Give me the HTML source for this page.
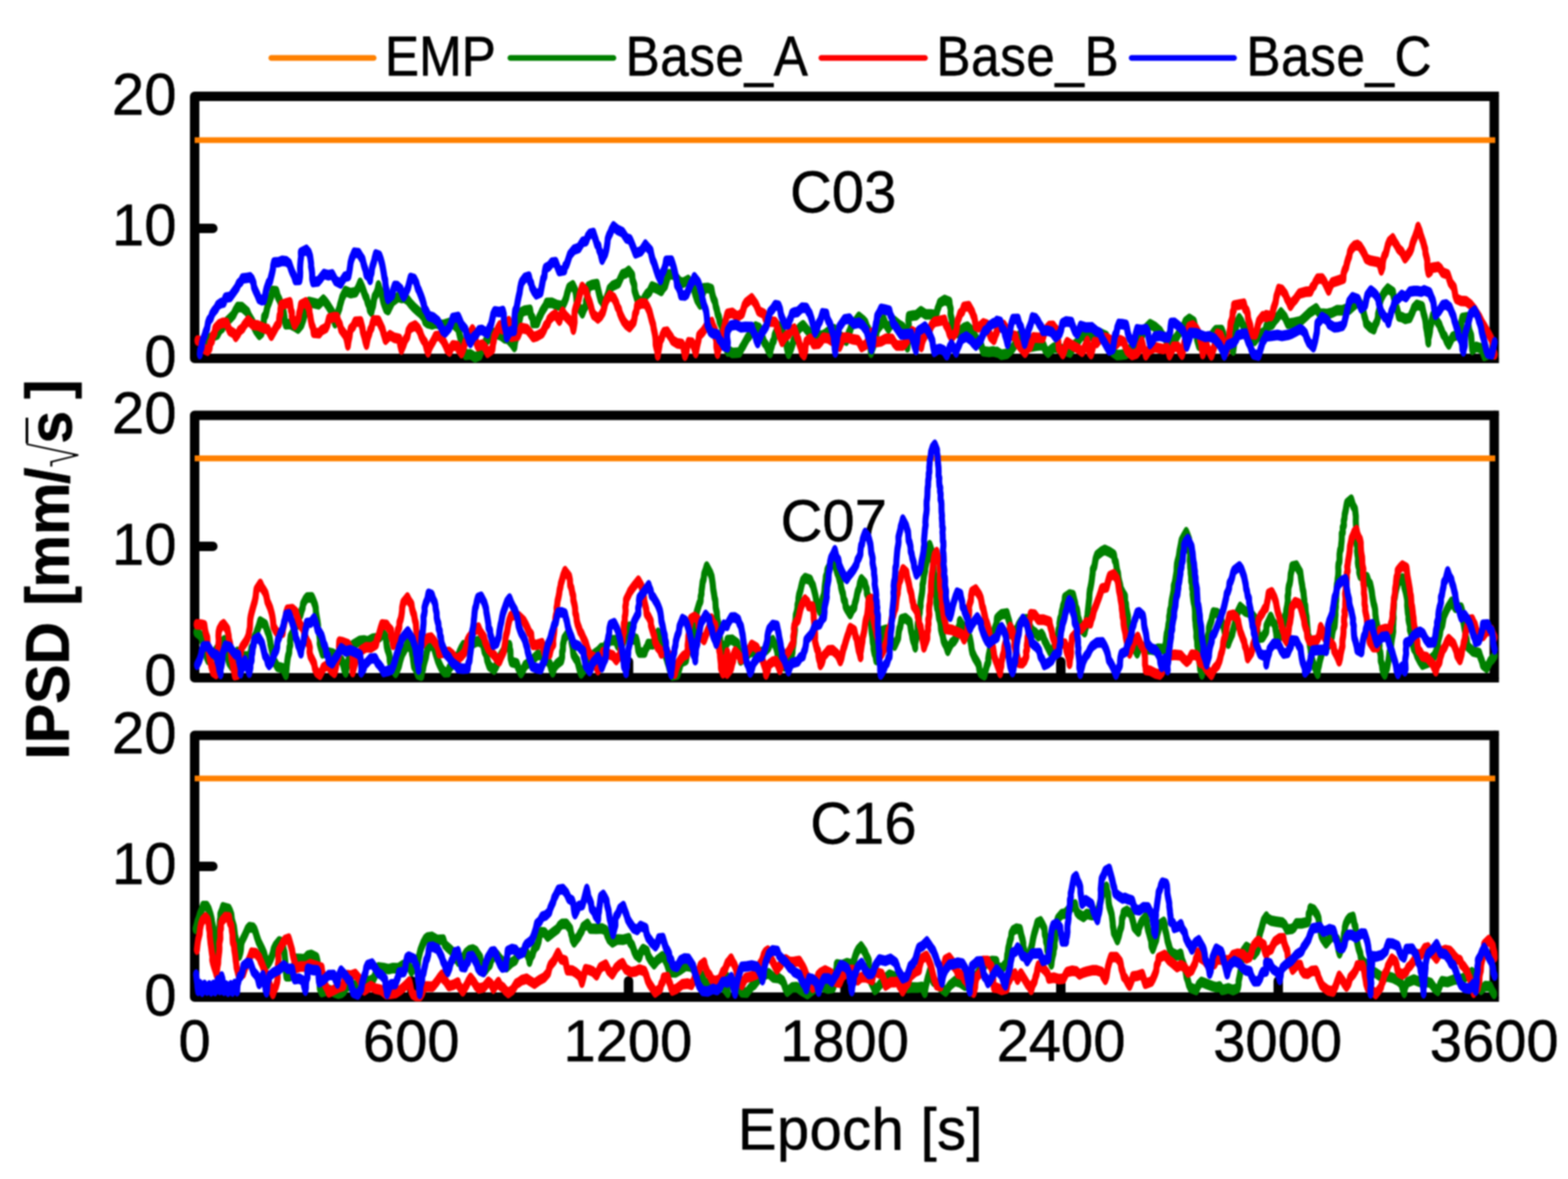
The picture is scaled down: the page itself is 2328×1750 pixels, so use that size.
<!DOCTYPE html>
<html lang="en"><head><meta charset="utf-8"><title>IPSD</title>
<style>html,body{margin:0;padding:0;background:#fff;}body{width:2328px;height:1750px;overflow:hidden;}svg{display:block;}#chart{width:2328px;height:1750px;filter:blur(0.8px);}text{font-family:"Liberation Sans",Arial,Helvetica,sans-serif;fill:#000;stroke:#000;stroke-width:0.8px;stroke-linejoin:round;}.yl{font-weight:bold;}.ax{fill:none;stroke:#000;stroke-width:14;stroke-linejoin:round;stroke-linecap:round;}.c{fill:none;stroke-width:9.0;stroke-linejoin:round;stroke-linecap:round;}.o{stroke:#ff8000;}.g{stroke:#008000;}.r{stroke:#ff0000;}.b{stroke:#0000ff;}</style></head><body><div id="chart">
<svg width="2328" height="1750" viewBox="0 0 2328 1750">
<rect width="2328" height="1750" fill="#fff"/>
<line class="c o" style="stroke-width:8.5" x1="402.8" y1="86" x2="554.8" y2="86"/>
<text class="t" transform="translate(571.5,111.5) scale(1.000,1.100)" style="font-size:76px">EMP</text>
<line class="c g" style="stroke-width:8.5" x1="757.8" y1="86" x2="910.8" y2="86"/>
<text class="t" transform="translate(928.7,111.5) scale(1.000,1.100)" style="font-size:76px;letter-spacing:0.9px">Base_A</text>
<line class="c r" style="stroke-width:8.5" x1="1219.5" y1="86" x2="1373.3" y2="86"/>
<text class="t" transform="translate(1390.2,111.5) scale(1.000,1.100)" style="font-size:76px;letter-spacing:0.9px">Base_B</text>
<line class="c b" style="stroke-width:8.5" x1="1680.2" y1="86" x2="1832.2" y2="86"/>
<text class="t" transform="translate(1850.5,111.5) scale(1.000,1.100)" style="font-size:76px;letter-spacing:0.9px">Base_C</text>
<text class="t" text-anchor="end" transform="translate(262.0,169.5) scale(1.000,1.020)" style="font-size:86px">20</text>
<text class="t" text-anchor="end" transform="translate(262.0,364.0) scale(1.000,1.020)" style="font-size:86px">10</text>
<text class="t" text-anchor="end" transform="translate(262.0,559.0) scale(1.000,1.020)" style="font-size:86px">0</text>
<text class="t" transform="translate(1173.0,314.5) scale(1.000,1.020)" style="font-size:86px">C03</text>
<rect class="ax" x="289" y="143" width="1929.5" height="389"/>
<rect x="2218.5" y="136.0" width="7.0" height="7.0"/><rect x="2218.5" y="532" width="7.0" height="7.0"/>
<line class="ax" x1="289" y1="339" x2="316" y2="339"/>
<line class="c o" style="stroke-linecap:butt;stroke-width:8.7" x1="289" y1="208" x2="2220.0" y2="208"/>
<path class="c g" transform="scale(1,1.75)" d="M298.0 296.25 L302.6 293.05 L306.0 289.43 L310.3 287.34 L317.5 284.89 L322.9 283.67 L326.7 279.56 L330.1 278.08 L333.8 274.29 L338.8 271.54 L343.2 269.05 L346.6 266.89 L349.7 263.25 L352.7 260.42 L359.4 260.54 L367.3 264.57 L369.5 267.73 L372.0 270.20 L375.2 273.24 L377.5 277.49 L379.7 279.98 L384.9 284.06 L388.4 282.42 L388.9 279.25 L389.8 277.03 L391.5 273.49 L392.1 268.89 L394.5 267.00 L396.1 262.81 L397.3 259.62 L399.5 256.42 L401.5 253.22 L403.3 250.38 L404.7 246.80 L410.4 247.11 L412.5 251.63 L414.9 254.21 L416.7 257.07 L419.1 261.12 L421.0 264.22 L422.0 267.58 L422.7 271.62 L424.2 275.08 L430.7 274.82 L436.9 276.68 L442.6 278.70 L447.6 275.30 L450.4 270.82 L452.0 267.26 L453.4 263.56 L454.9 261.38 L457.7 257.67 L458.6 256.03 L466.0 257.07 L473.2 258.18 L480.1 254.13 L482.7 255.67 L486.0 258.26 L489.6 261.49 L493.3 264.93 L494.9 267.02 L496.0 271.54 L497.4 274.16 L498.2 271.61 L500.0 267.62 L502.1 264.14 L504.0 261.26 L504.8 258.85 L507.1 254.29 L507.9 252.51 L512.7 246.88 L520.5 248.64 L528.1 247.83 L531.7 244.19 L534.7 239.89 L538.0 243.99 L540.7 248.40 L542.2 250.79 L544.2 252.88 L545.8 256.42 L548.2 259.42 L549.0 262.67 L551.4 264.42 L552.3 261.92 L553.9 259.14 L554.8 255.67 L556.1 251.65 L558.5 249.31 L560.4 246.37 L561.9 242.08 L563.5 245.38 L565.9 248.14 L567.5 251.71 L569.1 255.83 L570.9 258.81 L573.1 262.06 L576.4 263.06 L579.5 259.29 L582.5 255.81 L586.7 253.89 L591.4 251.72 L596.0 252.83 L600.2 252.49 L605.4 254.52 L610.2 258.01 L614.8 260.85 L619.2 263.16 L623.5 265.18 L625.8 266.61 L629.5 269.17 L631.2 272.45 L634.4 273.95 L641.5 275.19 L647.4 274.17 L654.0 275.52 L659.5 275.31 L668.4 273.66 L674.9 275.79 L679.8 278.40 L680.4 278.41 L681.7 282.32 L683.1 285.70 L685.0 288.91 L685.9 290.95 L687.7 294.46 L689.5 297.99 L691.0 301.01 L698.4 300.54 L705.5 303.13 L712.2 301.31 L714.7 297.62 L717.3 295.76 L719.4 292.89 L721.0 289.56 L725.6 287.08 L729.6 284.76 L734.1 282.40 L743.8 284.62 L749.0 286.97 L753.8 287.36 L759.8 291.12 L763.7 294.33 L764.7 289.82 L766.2 286.86 L767.0 283.32 L768.5 279.11 L769.9 277.56 L770.3 273.85 L771.7 270.51 L772.8 267.75 L773.8 264.94 L778.9 263.43 L787.0 262.79 L788.3 267.44 L790.9 269.77 L791.6 273.89 L797.6 273.88 L800.0 269.83 L802.5 267.08 L804.6 264.28 L807.0 262.07 L809.9 259.48 L811.6 256.92 L819.5 256.78 L827.0 258.72 L835.1 259.62 L838.8 255.32 L840.6 252.55 L842.2 248.57 L844.7 244.10 L850.5 241.98 L854.0 246.23 L855.0 249.12 L855.7 252.42 L856.2 256.33 L857.5 259.81 L860.9 261.95 L864.6 265.79 L867.4 261.73 L870.2 259.08 L870.0 255.72 L871.5 253.00 L872.1 250.44 L872.4 247.51 L873.4 243.12 L879.2 241.61 L886.3 240.95 L887.5 244.28 L888.5 246.69 L890.0 250.45 L891.6 253.88 L893.9 255.56 L897.0 258.63 L899.4 254.97 L900.9 252.22 L902.8 249.33 L904.8 245.15 L909.3 242.54 L918.2 240.14 L920.9 236.57 L924.1 232.65 L929.0 231.77 L933.5 229.69 L938.7 233.63 L939.0 237.31 L940.5 239.66 L941.8 241.90 L942.0 246.14 L944.0 249.95 L945.9 253.45 L953.1 257.13 L957.0 252.53 L960.4 249.50 L964.2 247.60 L967.9 243.02 L974.7 244.56 L981.9 246.79 L984.2 244.51 L987.6 242.29 L989.6 238.31 L991.5 234.70 L992.8 232.66 L1000.0 232.76 L1004.7 235.85 L1009.1 239.01 L1014.3 239.82 L1021.8 237.35 L1025.3 241.14 L1029.3 243.89 L1030.9 246.63 L1032.6 250.10 L1034.9 254.11 L1039.6 258.34 L1041.1 254.71 L1042.7 250.23 L1044.5 246.87 L1044.7 244.45 L1051.2 244.24 L1056.3 245.21 L1057.5 249.37 L1059.2 253.07 L1061.6 255.90 L1062.8 260.04 L1064.2 262.51 L1065.5 266.30 L1067.4 268.90 L1068.4 272.53 L1071.2 276.00 L1072.6 279.20 L1073.3 283.50 L1074.4 287.30 L1075.5 289.60 L1076.8 293.41 L1078.9 296.20 L1080.6 298.20 L1079.8 296.52 L1087.0 299.39 L1092.9 299.18 L1097.9 298.97 L1101.1 295.39 L1103.5 293.23 L1106.9 289.56 L1110.1 286.39 L1112.6 284.87 L1115.5 281.36 L1118.8 279.88 L1121.8 276.93 L1127.2 278.22 L1129.3 280.20 L1130.2 283.10 L1132.3 286.55 L1134.6 290.39 L1137.7 292.71 L1140.7 296.86 L1143.4 299.42 L1144.3 296.04 L1145.9 293.17 L1147.1 290.37 L1149.0 288.65 L1150.1 284.40 L1151.8 282.13 L1153.9 279.64 L1155.8 276.72 L1159.4 279.16 L1162.5 282.15 L1165.3 285.40 L1166.1 288.66 L1167.4 291.12 L1167.9 293.81 L1169.7 298.30 L1170.8 300.13 L1171.9 298.19 L1174.1 296.32 L1176.3 292.50 L1177.9 289.52 L1180.3 287.21 L1182.2 283.33 L1185.2 279.45 L1187.9 277.69 L1192.4 275.78 L1197.5 279.39 L1202.2 282.31 L1206.3 285.59 L1214.2 284.61 L1220.5 284.68 L1225.0 283.34 L1228.9 281.59 L1234.2 279.54 L1238.7 279.20 L1242.3 281.96 L1245.9 284.25 L1251.3 286.92 L1256.6 288.99 L1258.6 285.31 L1260.2 282.38 L1262.1 280.29 L1263.8 276.86 L1265.8 275.33 L1271.1 271.85 L1275.1 268.63 L1282.7 272.23 L1285.0 273.79 L1287.4 277.75 L1289.4 279.54 L1290.2 283.78 L1290.7 285.72 L1292.0 289.57 L1292.3 292.84 L1292.5 295.47 L1293.2 299.18 L1295.2 295.38 L1296.8 293.28 L1298.2 288.75 L1298.9 286.31 L1301.0 283.61 L1301.9 279.90 L1305.4 277.15 L1308.9 274.74 L1312.0 270.68 L1314.5 274.58 L1319.1 278.65 L1321.3 276.42 L1325.2 274.02 L1327.6 272.09 L1334.5 275.35 L1340.5 277.49 L1341.9 279.92 L1342.5 282.04 L1344.3 284.52 L1344.6 287.28 L1346.4 291.16 L1347.2 294.56 L1347.5 290.62 L1348.6 287.94 L1347.8 285.08 L1348.6 281.53 L1348.7 277.31 L1349.3 275.24 L1348.7 271.63 L1349.2 268.36 L1355.4 267.61 L1360.4 267.38 L1367.3 263.93 L1374.3 266.61 L1381.7 266.70 L1389.3 267.26 L1391.0 264.65 L1391.8 262.50 L1393.7 259.80 L1395.2 256.91 L1402.4 254.42 L1409.7 256.09 L1410.2 259.13 L1411.5 262.05 L1411.3 266.55 L1412.9 270.39 L1413.3 273.21 L1414.4 277.97 L1414.2 280.32 L1423.0 282.82 L1427.3 280.01 L1431.1 278.12 L1436.5 277.05 L1442.9 280.66 L1445.8 283.49 L1448.4 285.88 L1450.9 288.65 L1453.8 290.70 L1457.2 293.62 L1459.5 297.91 L1468.6 298.58 L1474.4 298.05 L1479.8 298.87 L1480.4 298.41 L1486.8 300.93 L1495.0 300.12 L1498.6 298.25 L1503.4 295.38 L1506.2 293.03 L1507.8 290.77 L1509.8 287.24 L1512.7 284.70 L1521.6 285.37 L1524.1 288.39 L1527.2 290.27 L1530.8 294.07 L1540.1 293.15 L1549.2 292.63 L1551.9 296.63 L1556.1 299.18 L1560.2 296.73 L1564.9 294.78 L1573.8 295.54 L1578.7 296.84 L1583.5 297.92 L1588.7 299.07 L1591.9 295.99 L1595.3 292.42 L1599.4 290.40 L1603.2 286.93 L1606.2 284.38 L1615.5 285.75 L1624.8 283.91 L1629.9 281.62 L1637.5 283.82 L1642.7 285.09 L1644.9 287.92 L1646.0 290.28 L1648.7 292.47 L1650.3 296.68 L1652.0 298.69 L1658.5 301.20 L1664.3 300.95 L1671.7 300.42 L1675.6 298.92 L1678.8 295.16 L1682.6 294.05 L1686.3 290.93 L1690.1 288.65 L1693.2 286.96 L1695.2 285.10 L1697.5 281.96 L1700.0 279.18 L1702.7 277.65 L1707.4 274.94 L1715.0 277.29 L1722.8 281.23 L1725.5 284.04 L1729.7 286.44 L1733.6 290.60 L1739.9 291.04 L1744.0 287.70 L1747.4 285.60 L1750.8 282.06 L1754.6 279.91 L1757.5 276.57 L1759.9 272.94 L1765.7 270.38 L1772.7 273.00 L1773.5 275.20 L1775.2 279.13 L1775.7 282.07 L1777.1 285.10 L1777.2 287.67 L1778.7 290.59 L1780.0 293.20 L1788.0 290.61 L1792.4 286.82 L1798.6 284.64 L1801.7 282.16 L1805.1 280.02 L1814.0 279.94 L1816.2 282.99 L1817.1 286.84 L1817.7 289.88 L1822.4 293.00 L1826.7 294.34 L1831.1 297.29 L1832.0 292.99 L1832.1 289.89 L1833.5 286.01 L1833.8 283.39 L1833.9 280.65 L1835.7 276.00 L1837.5 272.77 L1839.9 269.97 L1843.0 272.55 L1845.0 275.48 L1847.9 277.75 L1849.8 281.02 L1852.9 283.29 L1857.4 285.86 L1862.8 289.06 L1867.6 285.66 L1872.9 282.92 L1876.7 281.74 L1879.4 279.48 L1880.1 276.98 L1889.0 275.04 L1892.1 272.16 L1896.7 269.10 L1901.8 265.07 L1907.5 268.84 L1912.1 274.63 L1921.2 273.72 L1930.9 272.47 L1935.2 270.21 L1939.3 268.04 L1944.3 265.25 L1948.5 263.66 L1954.1 261.53 L1959.2 266.03 L1965.4 266.00 L1970.2 266.36 L1977.8 265.14 L1985.1 263.04 L1992.5 263.19 L1997.6 262.12 L2003.3 262.56 L2010.2 259.00 L2017.6 255.62 L2020.0 258.27 L2022.4 261.64 L2024.5 264.73 L2025.4 267.46 L2027.5 271.58 L2028.1 274.27 L2034.1 277.61 L2039.7 279.20 L2041.6 275.77 L2044.4 272.71 L2045.8 269.37 L2046.0 266.55 L2047.6 263.10 L2048.6 260.48 L2048.5 257.69 L2050.2 253.77 L2052.6 250.78 L2055.1 248.28 L2060.5 244.72 L2068.2 247.71 L2068.5 249.95 L2070.2 253.90 L2071.0 256.60 L2072.2 259.09 L2073.8 261.39 L2075.6 265.14 L2076.8 268.34 L2081.6 268.99 L2086.1 270.47 L2093.2 269.59 L2094.9 267.39 L2097.2 264.45 L2099.3 261.13 L2103.7 258.50 L2111.5 259.93 L2112.8 263.76 L2113.9 266.38 L2115.2 268.99 L2116.0 271.14 L2116.9 274.83 L2117.1 276.91 L2118.5 281.04 L2119.1 283.69 L2119.8 285.77 L2120.6 290.39 L2120.6 287.34 L2121.9 284.36 L2123.1 280.80 L2123.6 277.32 L2124.7 275.24 L2125.7 271.58 L2127.2 267.72 L2131.7 271.00 L2137.1 275.49 L2138.8 278.36 L2140.1 279.82 L2142.6 283.59 L2145.4 285.59 L2147.8 289.19 L2151.1 292.19 L2154.4 288.21 L2156.8 285.65 L2166.0 283.52 L2167.1 281.29 L2168.2 279.02 L2169.3 275.91 L2169.7 273.03 L2171.0 269.75 L2178.5 269.02 L2179.7 273.24 L2180.2 275.12 L2181.2 279.61 L2182.4 281.88 L2184.2 284.53 L2184.6 287.35 L2184.9 290.74 L2185.4 293.49 L2185.9 296.78 L2191.5 294.20 L2197.9 295.30 L2201.1 297.75 L2203.8 301.91 L2211.2 300.10 L2219.1 300.59"/>
<path class="c r" transform="scale(1,1.75)" d="M293.1 288.78 L296.0 289.16 L299.5 292.36 L303.7 296.25 L308.4 297.49 L311.2 295.21 L312.1 291.13 L314.8 289.01 L315.7 285.03 L318.5 282.43 L319.6 278.55 L325.5 275.04 L330.8 273.76 L336.6 273.95 L339.2 278.22 L341.2 280.68 L347.4 282.81 L350.0 285.79 L353.4 283.09 L355.6 280.53 L360.1 278.41 L362.7 275.76 L368.4 271.72 L375.5 275.51 L382.9 276.11 L391.8 278.41 L397.6 279.22 L402.8 284.85 L408.3 279.26 L410.7 276.62 L414.3 274.35 L414.5 270.90 L415.1 267.73 L416.4 266.28 L416.4 262.31 L417.5 258.86 L422.6 257.77 L430.4 256.40 L431.5 260.89 L431.8 262.89 L433.4 265.06 L433.2 268.45 L435.7 272.64 L437.4 275.53 L443.1 270.14 L443.7 268.21 L444.2 265.70 L445.6 262.89 L446.8 258.59 L454.0 256.43 L456.4 258.98 L459.3 262.54 L459.5 265.32 L460.7 268.28 L461.3 270.88 L462.7 275.05 L464.9 278.36 L465.7 282.25 L474.0 282.61 L477.3 280.19 L484.0 278.13 L486.3 275.17 L488.4 270.11 L495.8 268.98 L500.5 269.03 L502.2 272.59 L504.7 275.33 L506.5 279.45 L511.6 283.46 L513.7 285.46 L515.2 288.95 L516.5 292.93 L517.3 289.60 L519.0 285.11 L519.6 282.04 L520.6 279.13 L524.5 276.74 L527.3 272.96 L535.5 272.66 L536.7 275.35 L538.2 278.82 L538.7 281.23 L541.0 285.56 L542.6 289.66 L544.1 292.31 L545.3 288.64 L546.2 286.29 L548.5 282.58 L549.6 279.99 L551.8 277.77 L552.7 275.19 L554.4 271.85 L562.0 271.90 L564.4 274.84 L567.9 279.13 L568.9 281.56 L570.7 284.90 L572.4 288.17 L578.9 284.27 L585.4 286.49 L593.0 287.46 L594.1 291.93 L596.0 296.51 L599.1 292.43 L601.4 288.47 L604.9 285.37 L606.5 280.46 L609.2 278.09 L616.4 276.08 L620.6 278.45 L623.7 281.66 L625.4 284.79 L628.3 288.31 L631.2 290.47 L633.4 295.38 L635.5 298.88 L637.6 295.17 L639.9 292.52 L643.4 289.05 L646.7 285.23 L653.1 284.71 L655.3 286.93 L658.3 289.18 L661.3 292.66 L664.1 296.41 L667.4 298.24 L669.6 295.29 L672.2 292.90 L679.5 293.53 L679.7 295.36 L685.2 299.59 L687.5 296.50 L689.5 292.52 L690.7 290.65 L695.0 285.88 L697.5 283.07 L701.4 279.34 L703.7 281.88 L705.4 285.26 L706.1 288.59 L707.7 291.23 L709.4 293.60 L716.0 292.31 L720.2 294.68 L723.8 299.30 L731.1 296.14 L731.9 291.89 L733.2 288.79 L733.8 285.54 L736.6 282.28 L738.9 279.16 L742.0 275.97 L745.7 279.38 L748.9 276.80 L752.4 274.85 L755.4 272.39 L757.2 275.21 L757.3 279.26 L758.7 281.25 L759.2 285.72 L769.0 284.66 L770.8 282.09 L773.5 278.10 L782.6 279.19 L788.1 283.11 L791.7 285.97 L797.7 284.93 L804.7 282.63 L807.5 279.87 L810.1 276.31 L813.2 274.42 L815.4 270.95 L819.6 268.53 L824.4 266.67 L826.9 268.66 L830.6 272.01 L832.9 267.24 L835.2 264.31 L838.6 267.45 L843.1 270.16 L847.0 272.58 L849.6 275.18 L851.3 279.61 L851.9 277.76 L853.1 273.12 L853.0 271.48 L852.8 267.93 L853.2 264.05 L855.0 260.18 L857.4 257.26 L859.0 254.42 L860.6 250.13 L862.4 246.64 L864.3 243.32 L870.2 246.92 L871.2 249.66 L873.5 253.26 L875.7 256.62 L877.7 260.71 L878.8 263.52 L881.3 267.17 L884.1 268.19 L887.6 270.13 L891.5 268.18 L895.2 264.69 L897.2 260.74 L898.3 257.71 L900.3 254.79 L905.3 250.46 L911.3 252.70 L914.7 256.52 L916.7 260.25 L919.0 262.40 L920.0 264.98 L922.2 268.14 L926.0 272.54 L930.1 275.47 L934.7 277.51 L940.8 273.23 L942.1 269.83 L942.8 266.49 L944.9 263.87 L945.7 259.47 L951.7 257.28 L958.5 257.56 L961.3 260.25 L964.3 264.13 L965.7 267.23 L967.4 271.11 L969.8 275.59 L970.4 278.23 L971.7 281.66 L972.6 284.28 L973.3 287.88 L973.5 292.11 L974.5 294.71 L975.8 297.05 L976.5 301.45 L977.6 297.94 L979.1 293.23 L979.8 289.59 L982.6 286.41 L983.7 284.21 L985.8 281.76 L990.5 281.27 L993.2 283.66 L996.4 286.26 L998.6 288.81 L1005.5 291.22 L1012.5 291.81 L1014.6 294.45 L1015.8 298.46 L1016.9 301.74 L1019.3 298.04 L1020.0 294.55 L1022.3 290.28 L1027.5 290.58 L1030.3 294.23 L1032.9 299.47 L1034.1 296.20 L1035.5 292.16 L1037.1 288.27 L1037.9 284.74 L1043.6 281.26 L1046.8 278.57 L1050.7 274.89 L1056.7 273.20 L1058.6 276.59 L1061.6 280.17 L1061.7 282.18 L1062.2 286.02 L1063.6 288.02 L1063.6 290.84 L1063.7 294.28 L1064.6 296.61 L1065.3 300.01 L1066.6 296.22 L1069.1 293.26 L1070.4 290.87 L1071.3 287.51 L1072.7 284.05 L1073.9 280.68 L1074.8 278.22 L1076.2 275.30 L1077.2 271.90 L1078.7 268.91 L1079.5 266.99 L1080.0 266.24 L1087.5 265.39 L1094.6 268.60 L1101.8 265.88 L1103.6 262.47 L1105.3 259.14 L1107.7 256.85 L1116.0 253.05 L1122.1 257.79 L1124.3 260.64 L1126.5 263.97 L1134.6 266.30 L1136.5 270.04 L1138.5 272.78 L1143.9 272.66 L1150.6 273.06 L1152.5 274.58 L1153.8 278.46 L1155.4 280.27 L1157.2 284.41 L1160.0 287.83 L1161.2 289.93 L1164.2 287.07 L1166.3 285.35 L1170.8 283.52 L1174.1 280.61 L1179.1 278.77 L1181.3 282.19 L1183.5 286.07 L1185.4 288.03 L1186.4 290.84 L1189.1 294.99 L1190.6 299.25 L1193.7 301.26 L1195.6 297.26 L1195.8 294.56 L1197.1 289.72 L1202.9 287.32 L1206.2 289.62 L1208.0 291.97 L1215.5 291.54 L1218.9 289.34 L1222.4 286.33 L1229.6 287.01 L1237.7 290.00 L1241.3 291.93 L1246.5 293.98 L1248.6 291.06 L1252.1 286.40 L1259.0 286.40 L1266.5 287.80 L1273.8 288.53 L1276.0 290.61 L1279.4 294.37 L1286.7 291.84 L1289.1 287.91 L1290.7 285.39 L1293.9 282.21 L1295.5 283.94 L1298.6 287.47 L1300.8 290.18 L1308.0 289.58 L1315.2 287.25 L1324.6 287.56 L1328.0 290.99 L1331.3 293.04 L1340.5 293.04 L1344.2 291.00 L1347.8 287.82 L1351.0 284.40 L1354.3 280.97 L1362.5 283.64 L1363.7 287.06 L1365.3 290.24 L1367.8 294.27 L1368.9 290.85 L1370.5 287.86 L1372.8 285.26 L1376.1 282.27 L1380.2 280.06 L1383.2 275.73 L1387.5 272.91 L1395.2 272.13 L1402.1 271.29 L1404.0 275.15 L1405.9 277.01 L1407.9 279.32 L1409.6 282.91 L1412.8 286.37 L1418.3 282.49 L1419.9 280.49 L1421.0 275.71 L1421.7 272.16 L1424.0 269.02 L1425.6 266.06 L1428.8 264.15 L1430.9 260.28 L1438.4 259.58 L1443.4 264.65 L1445.0 267.42 L1446.7 269.48 L1447.8 273.08 L1448.6 276.52 L1453.0 277.70 L1459.9 274.27 L1465.6 275.36 L1467.0 278.20 L1468.3 281.69 L1471.0 285.87 L1475.6 288.20 L1478.1 284.00 L1479.9 281.79 L1479.7 280.92 L1483.5 277.06 L1490.4 275.65 L1492.9 277.79 L1495.2 281.14 L1498.6 284.18 L1507.7 285.03 L1508.9 287.98 L1510.2 290.78 L1516.0 295.22 L1521.9 299.28 L1525.2 295.66 L1529.4 294.08 L1532.0 289.80 L1534.5 286.14 L1541.5 286.49 L1548.3 286.70 L1550.3 282.82 L1552.8 279.63 L1557.7 276.50 L1563.6 276.39 L1566.3 278.60 L1569.1 280.22 L1569.8 283.88 L1570.4 286.75 L1571.0 288.91 L1571.7 292.11 L1571.9 295.18 L1575.4 297.73 L1577.9 300.43 L1579.4 298.46 L1581.4 295.05 L1582.6 292.49 L1584.4 290.30 L1592.6 293.22 L1599.7 295.43 L1606.7 298.40 L1609.4 295.96 L1611.9 292.56 L1614.3 289.10 L1615.1 293.30 L1617.0 295.39 L1617.3 298.33 L1619.8 300.39 L1621.1 297.96 L1622.2 295.36 L1623.4 292.26 L1624.6 290.15 L1628.4 290.89 L1631.1 288.87 L1633.8 285.99 L1642.4 286.62 L1649.6 288.75 L1657.2 292.03 L1663.1 288.52 L1668.4 289.94 L1671.2 294.36 L1673.9 297.81 L1680.9 301.19 L1687.5 299.91 L1690.9 297.30 L1692.4 292.75 L1695.3 289.61 L1696.6 292.48 L1697.7 295.24 L1699.8 297.77 L1701.2 301.37 L1705.9 297.17 L1715.1 294.45 L1721.5 295.52 L1727.5 296.14 L1732.6 294.80 L1734.7 297.70 L1736.4 301.29 L1739.3 298.14 L1742.1 294.04 L1748.9 294.06 L1751.9 298.09 L1754.9 300.88 L1756.1 298.46 L1757.3 294.05 L1757.9 291.93 L1759.3 288.29 L1760.8 285.22 L1761.7 281.89 L1764.0 280.08 L1765.2 277.25 L1771.2 276.01 L1776.3 279.04 L1778.8 281.55 L1781.8 285.85 L1782.2 288.41 L1783.6 291.25 L1784.0 294.32 L1785.0 297.66 L1785.7 300.38 L1787.2 297.35 L1789.3 295.45 L1791.3 292.08 L1793.0 295.50 L1795.3 297.84 L1798.6 301.51 L1800.7 297.69 L1803.2 293.39 L1804.8 289.18 L1805.5 287.28 L1807.4 283.09 L1812.5 284.32 L1814.2 286.74 L1816.0 290.74 L1817.8 292.57 L1820.5 295.36 L1821.2 298.43 L1822.2 296.00 L1823.2 292.92 L1823.6 290.24 L1824.3 287.33 L1825.5 284.13 L1825.4 281.46 L1826.5 278.40 L1827.0 274.06 L1828.6 271.70 L1829.8 268.99 L1830.2 264.87 L1831.8 263.06 L1832.1 259.13 L1839.7 258.36 L1846.7 257.57 L1848.5 261.77 L1851.0 263.42 L1852.4 265.99 L1853.0 270.16 L1854.4 272.84 L1856.3 276.15 L1857.2 280.15 L1857.8 283.23 L1863.7 283.65 L1865.7 280.43 L1867.5 276.02 L1869.0 272.48 L1874.7 268.23 L1880.6 268.86 L1879.6 267.34 L1887.3 268.22 L1889.3 265.56 L1890.6 261.90 L1892.4 258.80 L1894.0 256.06 L1895.0 251.71 L1896.3 249.44 L1898.5 245.14 L1903.3 245.82 L1908.3 249.61 L1910.8 253.39 L1913.7 256.28 L1915.8 259.40 L1920.3 255.59 L1923.0 254.09 L1926.2 251.38 L1929.3 248.95 L1938.2 247.53 L1945.6 247.28 L1948.3 243.68 L1951.1 241.97 L1952.8 239.51 L1956.1 236.41 L1963.1 236.20 L1966.1 238.60 L1968.0 240.85 L1972.6 246.43 L1975.3 242.46 L1978.1 239.51 L1987.2 237.82 L1994.5 236.33 L1994.8 232.07 L1996.3 229.24 L1998.6 226.60 L1999.6 223.69 L2001.3 220.21 L2003.2 217.39 L2004.3 213.58 L2006.7 210.95 L2010.7 208.47 L2015.5 207.71 L2019.2 209.21 L2022.7 212.32 L2025.9 215.67 L2028.7 219.49 L2034.0 220.91 L2039.6 221.60 L2046.5 222.38 L2048.9 225.18 L2050.8 229.31 L2052.6 226.47 L2053.0 222.78 L2053.9 219.60 L2055.4 216.95 L2057.5 214.87 L2059.4 210.50 L2060.5 207.80 L2062.7 204.90 L2067.8 202.20 L2070.4 205.06 L2073.9 208.24 L2076.5 211.06 L2081.2 213.70 L2086.1 219.06 L2089.9 216.33 L2093.8 213.05 L2095.5 210.78 L2096.9 207.22 L2098.7 204.06 L2100.7 201.37 L2101.9 199.45 L2104.1 195.82 L2105.4 192.54 L2107.9 196.11 L2109.2 199.08 L2111.3 202.64 L2112.9 205.19 L2114.6 208.92 L2116.0 211.48 L2116.4 214.71 L2117.7 217.40 L2119.1 220.81 L2119.1 224.44 L2119.5 227.44 L2120.8 231.30 L2123.5 230.14 L2125.5 227.25 L2135.2 226.27 L2138.2 227.73 L2141.8 231.11 L2149.4 232.80 L2151.0 235.48 L2153.5 239.84 L2158.7 243.79 L2159.9 247.60 L2160.7 250.53 L2162.5 253.44 L2169.1 255.19 L2176.8 255.49 L2183.3 258.42 L2189.7 262.84 L2192.5 265.67 L2196.8 269.45 L2200.3 273.50 L2203.7 276.74 L2207.3 280.32 L2211.1 284.07 L2213.7 286.88 L2216.5 290.58 L2217.1 292.90 L2217.6 297.64 L2219.1 300.59"/>
<path class="c b" transform="scale(1,1.75)" d="M296.7 300.35 L297.1 297.24 L299.3 294.35 L299.8 291.60 L301.3 288.19 L304.1 284.04 L305.1 281.83 L307.5 278.59 L308.8 273.92 L310.2 271.67 L313.0 269.67 L314.8 266.47 L317.3 264.15 L320.8 261.79 L323.4 258.86 L328.0 257.07 L332.3 256.49 L334.7 252.54 L341.9 251.81 L347.5 247.31 L351.9 243.75 L354.2 240.66 L357.7 238.78 L359.8 236.20 L366.6 235.71 L371.6 235.26 L374.1 236.94 L376.4 240.11 L377.1 243.44 L378.9 246.01 L382.4 250.23 L384.7 253.55 L388.8 254.68 L391.9 254.41 L393.8 250.15 L394.8 246.91 L395.9 244.43 L398.6 240.02 L401.0 238.37 L402.5 234.77 L404.2 230.91 L405.2 228.12 L405.6 225.46 L406.8 222.62 L413.6 222.34 L419.2 221.17 L425.2 221.62 L429.5 223.65 L432.2 228.29 L433.9 230.80 L436.6 233.86 L438.5 237.50 L444.7 237.32 L445.5 234.40 L445.7 231.02 L445.5 227.82 L445.7 225.12 L446.3 220.77 L447.0 218.10 L446.7 214.30 L454.9 211.83 L458.7 214.46 L460.4 217.44 L461.1 220.20 L461.9 223.60 L461.9 226.02 L462.8 228.70 L463.4 232.06 L463.6 236.51 L464.7 239.23 L472.3 238.65 L475.2 236.74 L478.4 234.21 L481.0 232.39 L487.4 233.48 L493.3 232.69 L498.4 238.31 L505.7 240.47 L508.5 237.66 L511.9 234.80 L517.4 233.92 L518.8 229.82 L519.5 227.36 L520.5 222.85 L522.1 219.39 L525.9 214.28 L532.5 214.81 L536.3 218.29 L538.3 220.03 L539.9 223.90 L541.3 226.65 L542.6 228.59 L544.0 232.92 L547.6 234.61 L549.5 237.40 L550.0 233.95 L551.7 231.20 L552.2 227.84 L553.0 225.95 L555.4 221.62 L556.2 219.38 L557.9 215.76 L563.4 216.94 L565.3 219.87 L567.0 223.37 L567.9 225.63 L569.0 229.09 L569.9 232.18 L570.8 235.68 L571.9 237.47 L572.3 241.30 L573.3 244.49 L574.3 246.68 L574.4 249.55 L575.9 253.59 L582.4 250.26 L583.7 246.12 L585.9 242.47 L590.0 242.69 L595.1 245.36 L597.2 249.27 L599.3 251.59 L601.1 249.85 L603.8 246.68 L605.9 243.95 L607.7 239.70 L609.5 235.75 L615.3 236.75 L618.1 239.96 L620.3 244.55 L621.7 245.90 L623.7 248.80 L625.6 251.59 L627.5 254.64 L629.3 258.38 L630.2 261.31 L633.2 264.03 L636.3 267.96 L643.3 269.29 L650.3 272.54 L654.6 277.14 L657.5 280.53 L661.1 281.98 L666.9 278.10 L669.8 274.27 L672.0 269.80 L679.8 268.87 L680.4 268.74 L682.3 271.19 L685.4 275.46 L691.2 279.41 L692.5 283.41 L694.6 285.70 L695.8 288.10 L698.3 290.88 L700.4 288.62 L703.0 285.80 L707.5 283.46 L710.9 280.22 L715.6 279.83 L723.8 282.78 L725.0 280.17 L727.1 277.57 L729.0 275.24 L730.9 270.56 L732.2 266.83 L734.4 264.08 L741.1 264.66 L746.7 263.75 L748.0 266.77 L748.0 271.09 L748.6 274.15 L749.5 276.82 L750.5 279.19 L751.9 283.18 L752.2 286.07 L755.4 283.09 L757.5 281.04 L763.3 280.53 L763.6 277.35 L764.2 273.20 L763.8 270.13 L764.2 266.87 L764.8 263.71 L766.9 261.29 L768.0 257.73 L768.6 255.67 L770.1 251.40 L771.5 248.04 L772.2 244.86 L773.5 241.19 L774.6 239.25 L779.2 235.75 L785.3 234.64 L787.0 238.72 L788.8 240.52 L789.9 243.76 L792.9 247.16 L796.2 249.72 L802.7 247.95 L804.0 243.87 L805.1 240.67 L806.3 236.78 L808.3 234.35 L808.7 231.12 L810.0 227.41 L815.0 225.85 L819.2 222.75 L825.0 222.29 L828.0 226.89 L830.1 229.89 L837.9 229.15 L839.1 225.69 L841.0 224.57 L842.8 221.79 L846.0 216.13 L851.9 211.89 L859.4 210.32 L861.7 208.03 L865.0 205.03 L870.3 204.47 L872.6 200.63 L875.7 198.30 L881.1 197.68 L882.2 199.86 L884.1 202.91 L886.4 207.39 L888.6 208.61 L889.5 211.87 L892.1 215.21 L892.4 216.75 L893.9 220.24 L896.3 217.54 L898.5 215.27 L900.2 211.74 L901.0 209.22 L901.9 205.58 L902.3 202.65 L904.4 199.31 L906.1 197.63 L908.2 194.60 L910.9 192.00 L916.8 194.93 L924.4 197.07 L930.1 202.11 L935.3 203.14 L937.0 205.21 L938.4 207.10 L940.8 210.52 L943.6 214.90 L951.6 213.10 L954.9 210.48 L958.1 207.55 L962.3 210.29 L965.9 212.49 L967.1 216.08 L968.9 220.25 L971.4 223.41 L972.9 226.20 L974.7 229.52 L976.5 232.62 L980.6 237.46 L982.5 232.67 L985.8 228.87 L987.9 224.89 L988.9 221.21 L997.0 221.14 L998.5 223.50 L1000.5 227.23 L1001.7 230.05 L1002.5 232.13 L1003.5 234.88 L1004.7 239.03 L1005.1 241.75 L1007.3 243.62 L1009.6 246.74 L1011.0 250.39 L1016.9 250.64 L1019.4 249.67 L1021.2 247.10 L1023.7 243.74 L1025.8 240.71 L1028.9 237.98 L1030.9 235.19 L1036.6 239.34 L1038.6 242.46 L1040.0 245.83 L1042.0 249.41 L1042.4 252.25 L1044.2 256.33 L1045.3 258.88 L1047.5 262.02 L1048.5 264.30 L1049.3 267.91 L1049.8 271.28 L1050.4 275.43 L1052.1 277.55 L1054.8 281.40 L1057.3 282.54 L1065.4 283.69 L1067.8 287.76 L1070.6 289.48 L1074.5 293.39 L1080.1 294.59 L1080.6 290.64 L1079.7 286.95 L1079.5 284.62 L1080.4 280.25 L1085.2 276.02 L1092.8 275.40 L1100.2 277.69 L1106.6 277.22 L1116.3 277.30 L1117.7 280.33 L1120.1 283.06 L1121.3 284.78 L1123.0 288.45 L1124.9 290.99 L1126.6 288.03 L1128.3 286.26 L1131.0 282.67 L1134.4 279.78 L1138.1 276.37 L1139.8 272.17 L1140.2 270.63 L1141.7 268.07 L1142.9 264.79 L1147.2 262.06 L1151.0 258.75 L1156.1 259.28 L1158.2 262.42 L1159.5 266.93 L1161.7 270.35 L1163.3 272.15 L1165.3 275.19 L1170.5 274.99 L1172.3 271.57 L1174.1 269.50 L1175.8 265.93 L1179.0 265.06 L1184.3 264.49 L1190.6 260.99 L1197.4 261.22 L1200.2 264.24 L1202.5 266.16 L1205.0 270.58 L1206.6 274.39 L1208.5 277.47 L1210.0 281.90 L1213.3 278.33 L1215.5 273.93 L1217.2 272.71 L1218.9 270.03 L1221.1 265.70 L1227.0 266.18 L1228.0 269.43 L1229.5 271.75 L1232.5 274.84 L1234.2 278.11 L1236.0 282.03 L1237.9 285.25 L1238.0 288.88 L1238.9 291.59 L1239.2 295.51 L1240.1 299.02 L1240.4 294.93 L1241.4 292.27 L1242.7 288.54 L1243.1 284.76 L1244.9 282.14 L1245.9 277.44 L1248.5 275.32 L1253.8 270.89 L1261.4 270.26 L1264.6 272.68 L1268.0 274.69 L1275.4 273.67 L1280.9 275.87 L1286.7 280.58 L1287.8 283.33 L1289.6 286.51 L1291.5 290.96 L1293.0 293.65 L1294.0 296.08 L1295.2 293.73 L1296.0 291.11 L1296.7 287.75 L1296.5 285.11 L1298.1 281.57 L1299.5 277.99 L1300.5 274.41 L1301.5 272.64 L1302.3 268.14 L1305.2 265.45 L1308.0 261.93 L1313.3 262.50 L1320.6 263.63 L1321.9 266.94 L1324.5 269.97 L1325.8 273.98 L1329.7 276.88 L1333.7 280.35 L1338.1 283.83 L1346.3 283.42 L1352.9 283.09 L1354.1 286.24 L1355.9 289.25 L1357.5 292.93 L1359.9 296.95 L1360.0 293.19 L1361.6 289.56 L1362.0 286.04 L1362.6 283.16 L1363.6 280.65 L1368.4 278.97 L1373.2 276.95 L1378.2 281.07 L1380.6 283.94 L1384.3 288.94 L1384.8 291.65 L1385.7 294.51 L1387.0 298.50 L1392.2 296.36 L1395.9 295.92 L1401.1 297.23 L1405.7 301.36 L1408.4 297.63 L1410.0 294.51 L1412.6 292.00 L1416.2 295.57 L1419.6 299.01 L1421.4 295.50 L1423.7 292.82 L1425.6 289.92 L1427.3 287.75 L1434.7 285.43 L1441.8 288.48 L1445.8 291.26 L1449.0 293.12 L1452.4 290.32 L1456.5 288.20 L1458.4 285.11 L1462.0 280.77 L1465.4 279.65 L1468.9 276.43 L1474.4 274.30 L1480.1 273.15 L1479.7 272.24 L1485.4 272.97 L1487.6 277.99 L1491.0 280.13 L1492.1 283.82 L1494.1 287.31 L1495.9 291.70 L1497.3 288.31 L1498.2 284.14 L1499.8 281.07 L1500.6 276.95 L1501.9 274.01 L1503.8 270.68 L1511.3 270.50 L1513.4 274.88 L1516.0 277.48 L1516.8 279.60 L1518.8 282.75 L1519.3 285.53 L1520.0 288.24 L1521.3 291.53 L1522.8 288.46 L1524.0 285.89 L1526.2 283.38 L1526.8 279.84 L1529.3 276.42 L1530.9 273.62 L1532.8 269.30 L1537.7 270.05 L1541.2 272.61 L1542.7 274.51 L1546.4 277.65 L1548.3 280.65 L1555.4 280.41 L1561.6 281.57 L1567.3 286.02 L1573.5 282.80 L1575.5 279.57 L1577.2 274.29 L1582.7 272.65 L1590.9 273.23 L1591.8 275.15 L1593.4 277.46 L1596.1 281.15 L1599.2 283.09 L1601.8 280.30 L1604.4 276.41 L1612.5 277.83 L1621.2 277.57 L1624.6 279.28 L1628.6 281.15 L1633.5 282.65 L1636.4 287.09 L1639.2 289.76 L1642.5 293.11 L1646.7 297.27 L1652.3 295.99 L1653.3 292.39 L1654.4 288.14 L1655.3 284.34 L1657.7 282.01 L1658.8 278.11 L1661.1 274.71 L1666.0 274.96 L1672.1 275.62 L1673.3 278.60 L1674.4 282.15 L1675.8 284.85 L1677.2 286.81 L1682.6 291.12 L1684.8 287.51 L1686.2 283.38 L1688.2 279.28 L1695.2 279.95 L1701.9 279.03 L1704.3 281.81 L1705.2 285.80 L1706.2 288.43 L1707.3 291.81 L1711.6 288.90 L1714.7 285.36 L1722.2 284.78 L1729.7 286.12 L1734.4 286.31 L1736.0 283.54 L1737.3 281.76 L1737.9 277.46 L1738.7 273.97 L1743.9 273.76 L1751.6 277.32 L1757.0 280.75 L1758.2 282.99 L1759.6 286.16 L1761.1 290.79 L1761.9 293.90 L1764.0 290.39 L1766.2 286.71 L1767.0 282.31 L1776.3 282.61 L1783.2 284.37 L1789.3 285.74 L1795.1 285.17 L1803.3 287.26 L1806.8 289.76 L1810.9 292.53 L1813.0 294.93 L1816.3 298.58 L1817.7 301.56 L1820.3 297.17 L1821.7 294.70 L1823.2 292.69 L1832.4 290.39 L1835.8 287.45 L1837.6 284.41 L1843.4 283.38 L1849.2 282.85 L1850.9 286.04 L1853.3 290.01 L1856.0 292.99 L1858.3 297.15 L1861.1 300.50 L1868.5 301.72 L1870.5 298.16 L1872.4 294.60 L1874.8 289.87 L1876.9 288.13 L1880.0 284.41 L1880.0 285.44 L1888.6 284.75 L1896.7 284.09 L1903.2 284.91 L1912.8 283.94 L1916.8 283.21 L1922.0 281.73 L1930.2 279.15 L1934.2 280.44 L1937.7 282.53 L1940.1 286.85 L1943.4 290.73 L1950.0 294.53 L1951.4 291.59 L1952.8 288.63 L1953.9 285.15 L1955.1 281.85 L1955.5 278.10 L1955.9 274.30 L1959.8 271.93 L1962.7 268.85 L1968.8 270.83 L1971.1 272.06 L1973.6 275.09 L1981.0 277.68 L1987.1 277.33 L1993.4 276.29 L1995.8 273.91 L1997.5 269.71 L1998.8 266.82 L2000.4 262.33 L2001.2 260.45 L2003.0 255.90 L2008.1 252.09 L2016.2 253.81 L2018.1 257.56 L2020.7 261.37 L2027.0 258.84 L2027.7 256.64 L2028.9 253.27 L2029.9 250.51 L2035.3 246.34 L2040.4 248.67 L2043.7 250.82 L2046.5 254.01 L2047.0 256.75 L2049.3 261.55 L2050.5 264.06 L2055.8 269.01 L2059.0 270.03 L2061.4 273.82 L2062.7 270.16 L2064.7 266.96 L2065.9 263.93 L2068.7 260.47 L2069.8 257.48 L2071.6 255.07 L2075.9 253.28 L2081.3 250.08 L2087.4 252.00 L2093.2 247.36 L2099.4 246.75 L2104.3 246.83 L2110.2 247.42 L2114.5 246.23 L2122.6 248.13 L2125.3 252.14 L2127.3 254.63 L2128.4 257.35 L2129.3 261.75 L2130.6 264.76 L2131.2 267.12 L2136.5 263.82 L2142.0 258.77 L2147.3 258.23 L2152.6 260.80 L2155.7 265.26 L2158.0 268.16 L2159.3 271.73 L2160.9 274.51 L2162.6 277.87 L2164.4 280.10 L2165.2 284.02 L2167.6 286.85 L2169.9 289.58 L2170.9 292.78 L2171.2 296.14 L2172.8 298.03 L2173.1 296.48 L2174.7 293.22 L2174.7 290.19 L2175.1 286.85 L2175.4 282.61 L2176.7 280.36 L2178.9 275.98 L2180.0 273.91 L2182.0 269.53 L2183.4 266.25 L2189.4 263.43 L2192.4 266.37 L2195.2 270.41 L2195.5 271.68 L2197.7 275.15 L2199.1 278.26 L2199.7 280.89 L2201.2 284.52 L2202.7 287.17 L2204.3 290.89 L2205.9 294.88 L2206.8 297.08 L2208.6 299.88 L2215.0 300.55 L2216.1 298.07 L2217.7 294.01 L2219.1 290.26"/>
<text class="t" text-anchor="end" transform="translate(262.0,643.0) scale(1.000,1.020)" style="font-size:86px">20</text>
<text class="t" text-anchor="end" transform="translate(262.0,837.5) scale(1.000,1.020)" style="font-size:86px">10</text>
<text class="t" text-anchor="end" transform="translate(262.0,1032.0) scale(1.000,1.020)" style="font-size:86px">0</text>
<text class="t" transform="translate(1159.0,803.0) scale(1.000,1.020)" style="font-size:86px">C07</text>
<rect class="ax" x="289" y="616.5" width="1929.5" height="389.5"/>
<rect x="2218.5" y="609.5" width="7.0" height="7.0"/><rect x="2218.5" y="1006" width="7.0" height="7.0"/>
<line class="ax" x1="289" y1="811" x2="316" y2="811"/>
<line class="ax" x1="933.2" y1="1006" x2="933.2" y2="982"/>
<line class="ax" x1="1575.0" y1="1006" x2="1575.0" y2="982"/>
<line class="c o" style="stroke-linecap:butt;stroke-width:8.7" x1="289" y1="680.3" x2="2220.0" y2="680.3"/>
<path class="c g" transform="scale(1,1.75)" d="M291.6 536.17 L297.8 539.08 L299.6 541.94 L301.2 545.49 L303.3 548.72 L305.7 551.63 L306.7 556.69 L309.0 559.77 L316.3 555.97 L318.6 553.79 L321.6 550.69 L325.7 548.90 L328.8 545.66 L333.0 543.01 L333.3 546.12 L334.5 548.47 L336.5 551.70 L337.1 554.93 L338.0 557.53 L340.2 561.81 L344.5 565.38 L346.5 561.30 L348.4 558.61 L350.5 555.64 L352.4 552.87 L356.3 554.37 L361.3 556.85 L370.2 556.73 L372.6 552.44 L373.1 550.18 L375.6 548.03 L377.2 543.62 L377.7 540.70 L380.2 537.78 L381.3 535.61 L383.7 531.98 L386.2 527.09 L394.0 529.81 L395.2 532.29 L397.0 535.26 L398.9 537.77 L400.1 540.72 L401.4 544.81 L401.5 546.21 L402.9 549.61 L404.2 553.26 L405.5 557.16 L406.3 559.79 L412.0 565.56 L419.8 566.79 L422.1 569.54 L424.4 572.36 L425.3 568.27 L425.7 565.07 L426.4 561.77 L427.1 558.44 L427.7 556.50 L429.3 553.35 L429.7 549.32 L431.0 546.97 L430.7 543.88 L431.5 539.83 L434.7 536.53 L436.3 534.30 L439.6 530.73 L441.5 526.68 L443.9 523.60 L446.0 521.42 L447.7 517.87 L449.3 515.39 L449.9 512.35 L453.2 508.64 L455.8 506.76 L463.2 506.68 L465.0 508.96 L467.8 513.14 L468.8 515.85 L469.0 518.75 L469.9 522.27 L470.3 523.55 L471.5 527.37 L472.2 530.45 L471.9 533.07 L473.6 536.37 L474.3 539.63 L475.1 543.24 L474.7 545.76 L476.0 548.76 L477.4 551.29 L478.9 554.14 L486.7 553.31 L493.8 554.27 L497.1 555.33 L500.5 557.96 L507.8 560.55 L510.1 564.92 L511.0 567.57 L513.2 570.47 L514.6 566.16 L515.7 562.68 L517.4 560.23 L518.7 556.02 L520.0 552.14 L522.1 548.86 L523.6 547.09 L533.6 543.69 L540.4 543.18 L546.1 544.03 L552.8 541.80 L560.1 541.24 L564.0 540.22 L568.0 537.04 L572.6 540.41 L573.4 543.98 L574.2 548.07 L575.1 550.46 L577.0 553.54 L578.3 556.53 L578.7 560.50 L580.1 564.12 L582.5 566.99 L587.3 570.75 L590.4 567.43 L592.4 564.58 L594.2 560.29 L596.0 556.75 L597.8 554.02 L600.4 551.46 L602.6 549.05 L605.4 545.62 L607.6 548.59 L611.4 550.39 L611.7 554.23 L612.8 556.93 L613.8 561.81 L614.7 565.14 L617.4 567.33 L620.5 572.05 L625.6 573.13 L626.7 569.16 L628.1 567.39 L629.0 564.25 L630.3 561.31 L632.4 557.08 L633.2 554.39 L634.4 551.13 L636.8 548.05 L642.1 546.96 L644.9 550.54 L646.6 553.89 L648.3 556.92 L650.2 560.41 L652.8 563.78 L655.9 567.42 L660.1 570.26 L665.6 570.14 L667.0 566.77 L670.0 564.91 L672.7 561.86 L675.9 559.03 L679.5 556.35 L680.4 556.80 L682.0 553.57 L684.8 550.10 L687.8 547.19 L692.6 547.52 L698.1 545.31 L703.4 545.39 L708.9 543.76 L715.9 545.13 L718.2 549.08 L719.4 552.46 L722.1 555.39 L723.3 559.78 L725.1 562.72 L726.5 565.00 L733.7 568.03 L736.1 565.57 L738.6 562.68 L740.7 559.33 L743.6 555.59 L747.0 552.56 L750.7 548.62 L756.5 547.27 L756.7 550.05 L757.8 552.26 L758.0 555.89 L758.2 558.33 L759.6 561.49 L767.3 562.69 L769.2 566.22 L771.7 568.95 L773.5 570.93 L776.7 567.99 L779.6 564.41 L784.2 562.70 L789.1 560.54 L793.6 557.99 L798.0 555.39 L804.7 555.91 L808.9 558.09 L813.8 561.06 L816.5 563.29 L818.7 567.64 L820.6 570.23 L823.2 565.81 L827.0 563.12 L833.4 560.15 L834.6 557.16 L834.6 553.16 L835.7 550.94 L835.9 546.54 L836.8 544.40 L837.8 541.45 L843.3 537.04 L848.3 539.81 L848.5 544.50 L849.5 547.31 L850.3 549.10 L851.0 553.54 L851.5 555.36 L854.8 558.63 L857.3 560.58 L859.0 564.50 L861.2 569.16 L862.9 571.18 L865.0 569.46 L867.8 567.65 L870.0 563.61 L872.5 562.29 L875.3 558.83 L878.6 556.52 L883.5 554.21 L887.8 552.53 L892.4 549.65 L897.0 549.62 L901.4 545.66 L906.0 543.22 L913.9 542.96 L917.2 547.56 L924.5 545.51 L926.3 543.01 L928.1 540.06 L930.7 536.02 L932.6 534.48 L934.7 531.45 L936.3 533.55 L937.6 536.59 L939.5 538.77 L940.1 542.31 L944.6 542.00 L945.6 544.00 L946.7 547.53 L947.7 551.64 L949.1 553.54 L957.2 553.49 L958.6 550.66 L960.7 548.74 L962.2 546.16 L969.5 546.45 L971.2 543.30 L973.7 539.77 L977.0 536.63 L979.1 540.00 L981.5 542.18 L984.3 545.43 L985.1 548.85 L986.5 551.25 L987.8 555.45 L989.9 558.89 L990.6 560.45 L992.6 563.96 L994.1 567.36 L996.8 569.19 L998.5 573.02 L1005.9 572.07 L1007.6 569.05 L1009.5 565.24 L1011.3 561.66 L1018.6 559.73 L1019.6 556.44 L1020.8 553.26 L1022.0 548.42 L1023.3 546.42 L1026.9 542.87 L1030.8 540.08 L1031.1 537.46 L1031.8 534.73 L1031.8 531.52 L1033.1 529.34 L1033.0 525.36 L1034.4 522.44 L1034.3 519.43 L1035.9 516.37 L1038.0 512.39 L1040.2 509.62 L1040.3 506.37 L1041.5 503.49 L1041.6 500.87 L1042.4 497.75 L1043.1 494.14 L1044.7 491.05 L1045.6 486.86 L1047.5 483.90 L1049.2 480.50 L1054.5 485.93 L1056.6 489.16 L1058.1 494.94 L1058.6 497.74 L1058.9 499.82 L1060.1 503.64 L1060.9 506.97 L1062.0 509.13 L1062.4 513.02 L1062.6 515.29 L1064.3 519.70 L1064.4 521.98 L1064.9 525.09 L1066.4 528.70 L1066.5 531.25 L1066.9 533.67 L1067.9 537.30 L1069.0 540.58 L1069.4 544.37 L1071.0 546.79 L1071.8 549.26 L1072.0 551.68 L1075.3 550.42 L1077.5 546.95 L1080.5 544.44 L1079.9 542.88 L1087.1 542.57 L1094.9 545.89 L1095.3 548.44 L1097.6 553.49 L1099.0 556.58 L1099.5 560.28 L1107.6 556.88 L1112.2 553.82 L1116.1 552.65 L1121.9 553.65 L1126.6 553.66 L1132.4 552.76 L1137.6 551.22 L1141.4 548.88 L1143.7 544.75 L1147.4 543.09 L1149.5 545.86 L1151.7 548.10 L1153.6 551.73 L1154.4 554.56 L1154.5 557.22 L1156.1 561.71 L1160.2 563.06 L1164.9 565.34 L1168.3 561.98 L1172.5 558.24 L1175.3 556.76 L1176.6 553.00 L1176.7 550.58 L1178.0 546.21 L1178.4 544.29 L1178.8 540.60 L1179.5 537.75 L1180.2 534.30 L1179.8 530.65 L1180.4 528.84 L1181.2 525.50 L1181.5 521.95 L1183.0 519.22 L1184.1 515.39 L1184.0 513.35 L1185.3 510.75 L1185.5 507.56 L1186.4 504.42 L1188.4 500.76 L1189.1 498.87 L1190.2 495.97 L1192.0 492.48 L1195.3 490.30 L1203.1 491.84 L1204.8 494.46 L1207.1 496.72 L1208.2 499.49 L1209.8 503.01 L1210.8 505.58 L1211.7 508.51 L1213.1 512.28 L1214.3 514.10 L1217.5 518.39 L1218.9 515.34 L1219.8 511.74 L1221.4 507.62 L1223.2 504.64 L1223.9 501.81 L1224.4 497.89 L1224.8 495.91 L1225.8 491.79 L1226.1 489.46 L1227.9 486.82 L1228.4 483.43 L1230.8 481.22 L1233.9 476.50 L1238.7 478.74 L1241.1 481.52 L1243.0 485.55 L1244.9 488.09 L1246.8 492.48 L1247.9 494.39 L1248.8 498.15 L1250.2 501.40 L1251.5 503.59 L1252.6 508.33 L1254.7 510.36 L1255.4 514.23 L1257.0 516.11 L1262.3 520.93 L1265.2 517.32 L1268.5 515.06 L1269.1 512.05 L1271.2 508.10 L1272.1 505.19 L1273.4 501.71 L1275.5 498.97 L1276.7 494.73 L1278.9 491.39 L1284.4 494.80 L1284.9 496.86 L1287.0 500.09 L1287.0 503.07 L1289.0 505.81 L1289.9 510.06 L1290.4 511.90 L1291.3 516.12 L1291.3 519.20 L1291.7 522.18 L1292.6 524.70 L1293.1 527.32 L1293.5 530.16 L1293.7 533.17 L1294.3 536.67 L1295.2 539.68 L1295.5 541.68 L1295.8 544.44 L1297.0 547.44 L1297.0 550.17 L1298.4 554.13 L1299.8 555.85 L1300.9 559.80 L1302.0 556.15 L1303.1 553.87 L1304.4 551.36 L1305.5 547.55 L1306.1 544.31 L1307.4 542.04 L1308.9 539.16 L1310.0 535.09 L1315.4 534.14 L1317.6 537.90 L1320.4 540.08 L1324.0 544.09 L1328.1 547.66 L1330.7 544.51 L1333.5 540.95 L1334.0 537.57 L1335.1 533.56 L1336.5 531.65 L1337.8 527.50 L1338.4 525.28 L1344.4 524.31 L1350.7 527.40 L1351.6 530.78 L1352.5 534.51 L1354.0 538.07 L1354.7 540.80 L1355.7 543.17 L1357.4 545.53 L1358.8 549.04 L1358.6 546.17 L1359.8 542.65 L1360.9 540.53 L1361.7 537.23 L1362.4 534.46 L1362.3 530.68 L1362.7 528.72 L1364.4 525.23 L1364.5 522.21 L1365.6 519.14 L1365.6 517.29 L1366.8 513.84 L1366.6 511.58 L1367.3 508.32 L1368.2 505.39 L1369.0 502.66 L1369.7 498.47 L1369.6 496.25 L1370.8 493.43 L1371.3 490.59 L1372.2 487.16 L1373.6 483.97 L1373.8 481.61 L1374.6 479.23 L1376.0 475.66 L1376.0 472.82 L1376.9 469.52 L1378.7 468.18 L1379.8 463.85 L1380.3 462.37 L1381.5 464.44 L1383.6 468.06 L1384.3 470.70 L1384.6 474.76 L1385.5 477.55 L1385.8 480.78 L1385.9 482.45 L1386.4 486.18 L1387.8 488.84 L1388.0 491.65 L1388.0 494.00 L1388.0 497.92 L1389.6 501.16 L1389.8 503.79 L1390.3 506.95 L1390.6 508.35 L1390.2 511.11 L1391.2 515.40 L1392.6 517.39 L1393.4 520.88 L1394.2 524.18 L1395.7 526.52 L1396.6 529.72 L1397.0 533.43 L1398.2 536.37 L1399.5 538.73 L1400.9 543.26 L1402.2 545.13 L1404.7 547.71 L1407.1 552.02 L1410.3 548.03 L1413.0 545.26 L1416.5 543.69 L1419.4 541.16 L1421.5 537.81 L1422.6 535.66 L1423.2 532.34 L1424.8 529.99 L1425.0 526.94 L1427.6 529.28 L1430.7 531.84 L1432.5 535.74 L1436.6 538.30 L1439.6 540.61 L1441.0 544.29 L1441.9 547.21 L1442.5 550.22 L1443.6 553.31 L1447.1 557.86 L1450.5 561.00 L1453.1 563.89 L1454.2 568.35 L1456.0 570.89 L1461.5 572.78 L1463.5 568.21 L1465.4 564.18 L1467.4 561.57 L1467.2 558.89 L1468.0 555.93 L1469.1 553.03 L1470.4 548.68 L1471.1 546.38 L1471.6 543.85 L1472.2 540.36 L1474.4 537.36 L1476.1 534.79 L1477.8 531.95 L1479.7 528.83 L1480.0 524.72 L1483.3 522.75 L1486.9 521.00 L1494.9 520.27 L1496.5 523.72 L1498.4 527.28 L1499.6 530.82 L1501.2 532.79 L1502.8 536.82 L1503.1 538.79 L1506.3 535.91 L1510.1 533.39 L1512.5 530.05 L1515.8 527.17 L1520.2 525.36 L1525.4 525.23 L1528.0 527.95 L1529.6 532.07 L1532.7 535.00 L1537.1 536.63 L1541.6 539.56 L1546.4 537.63 L1548.7 539.73 L1550.5 542.89 L1552.8 545.38 L1554.8 547.79 L1558.6 552.06 L1561.1 554.46 L1563.7 551.80 L1565.2 548.51 L1566.8 546.75 L1568.2 543.78 L1570.2 540.35 L1570.9 537.84 L1571.6 534.28 L1573.3 531.74 L1572.9 529.03 L1574.0 525.00 L1575.6 522.76 L1576.3 519.27 L1577.7 516.20 L1578.2 514.26 L1580.5 510.59 L1581.0 506.93 L1587.9 504.23 L1593.3 504.94 L1594.9 508.71 L1596.2 511.46 L1597.0 514.76 L1598.9 517.11 L1599.9 520.31 L1600.4 523.37 L1602.5 526.87 L1602.7 530.94 L1606.4 534.06 L1610.3 536.24 L1610.7 534.68 L1612.3 531.62 L1613.4 528.41 L1613.5 525.07 L1614.6 522.22 L1614.9 519.40 L1615.4 516.82 L1616.1 513.16 L1616.5 510.92 L1617.2 507.61 L1617.4 504.19 L1618.1 500.63 L1618.9 498.85 L1620.2 494.79 L1620.9 492.24 L1621.4 489.55 L1622.2 486.31 L1622.5 483.21 L1624.8 480.45 L1625.7 477.40 L1626.7 474.01 L1628.6 470.92 L1636.0 467.56 L1640.3 466.33 L1646.7 468.02 L1653.9 470.60 L1654.9 474.88 L1656.7 476.86 L1657.6 480.53 L1658.7 484.42 L1659.9 486.31 L1660.7 490.49 L1661.8 493.47 L1663.2 496.48 L1663.9 499.26 L1667.5 503.32 L1670.3 505.81 L1670.4 510.68 L1671.8 512.46 L1672.2 515.93 L1673.8 520.60 L1674.7 522.82 L1674.4 525.64 L1675.9 529.62 L1676.5 532.11 L1677.2 535.29 L1678.6 539.04 L1680.3 541.51 L1682.5 545.33 L1684.7 550.25 L1688.3 554.15 L1690.6 550.77 L1693.0 547.23 L1698.2 549.44 L1702.7 550.86 L1708.0 550.71 L1713.9 551.45 L1719.0 550.24 L1723.8 550.31 L1729.9 550.76 L1729.8 548.28 L1731.1 544.70 L1731.4 541.51 L1732.2 537.78 L1733.1 536.20 L1734.2 532.50 L1734.7 529.83 L1736.0 526.43 L1735.9 523.26 L1736.7 521.02 L1737.2 517.81 L1738.7 515.06 L1739.2 511.31 L1739.8 508.87 L1740.7 506.44 L1742.0 502.35 L1742.5 500.61 L1742.7 496.98 L1744.0 494.76 L1744.9 491.94 L1746.0 487.83 L1746.9 484.86 L1747.0 481.48 L1747.4 478.58 L1748.2 476.39 L1749.9 472.89 L1750.8 469.68 L1751.3 467.43 L1752.7 463.59 L1753.7 460.28 L1754.3 458.51 L1757.5 455.16 L1761.2 451.42 L1763.2 454.12 L1765.4 457.56 L1765.8 460.29 L1766.1 463.26 L1766.0 467.03 L1767.0 470.01 L1766.8 471.52 L1766.4 475.70 L1766.8 477.33 L1767.1 481.30 L1767.7 482.95 L1767.8 485.92 L1768.5 488.92 L1768.6 492.77 L1770.0 495.40 L1769.9 498.74 L1771.0 500.79 L1770.7 503.96 L1771.6 508.13 L1772.1 510.36 L1773.3 513.41 L1773.8 515.87 L1774.2 518.86 L1774.2 522.82 L1774.4 525.37 L1774.9 527.16 L1775.2 530.60 L1776.1 534.40 L1776.4 536.92 L1776.2 539.87 L1777.1 542.42 L1777.5 544.54 L1777.6 547.37 L1778.9 550.68 L1778.6 554.22 L1779.9 557.48 L1780.3 559.66 L1781.3 563.52 L1781.8 567.24 L1783.1 569.04 L1784.6 572.03 L1785.6 569.42 L1787.9 565.79 L1788.2 563.43 L1788.8 560.72 L1789.0 557.73 L1789.7 555.01 L1790.1 551.88 L1790.8 549.13 L1791.6 546.51 L1792.4 542.92 L1793.5 539.28 L1794.9 536.60 L1794.9 532.67 L1795.9 530.68 L1798.7 526.06 L1799.5 523.55 L1801.4 519.56 L1807.5 519.99 L1813.1 525.75 L1814.9 529.37 L1816.4 531.20 L1818.2 535.82 L1820.4 538.92 L1821.6 543.07 L1823.6 545.95 L1825.0 543.52 L1827.3 540.35 L1829.4 537.87 L1830.2 535.84 L1831.5 532.82 L1833.1 529.78 L1834.1 526.66 L1835.4 522.70 L1836.8 520.21 L1841.3 514.82 L1848.8 518.56 L1857.4 520.31 L1863.0 524.41 L1864.0 528.30 L1865.9 531.16 L1867.0 534.99 L1867.3 537.17 L1869.0 540.98 L1874.8 540.50 L1880.1 535.41 L1880.3 530.87 L1884.0 526.37 L1886.6 523.15 L1889.9 527.59 L1892.9 529.90 L1893.9 534.27 L1894.7 536.53 L1895.4 541.34 L1896.8 543.32 L1898.4 541.64 L1901.3 537.49 L1903.6 535.96 L1904.5 533.08 L1905.2 529.90 L1907.1 526.93 L1907.3 523.48 L1909.2 521.21 L1909.7 517.79 L1911.0 514.10 L1911.5 512.02 L1912.1 509.68 L1911.8 505.80 L1912.7 503.49 L1912.8 499.91 L1913.4 497.41 L1914.9 494.60 L1915.8 491.51 L1916.3 487.20 L1917.7 483.70 L1918.4 480.64 L1924.8 479.68 L1927.3 482.30 L1930.5 485.43 L1931.2 488.58 L1932.2 493.03 L1933.3 496.18 L1934.0 499.45 L1935.2 502.16 L1935.9 506.13 L1936.6 509.11 L1936.5 511.56 L1938.0 513.92 L1938.5 518.56 L1939.2 521.23 L1940.0 523.62 L1940.2 525.88 L1940.7 529.66 L1941.1 532.67 L1941.7 535.58 L1941.7 538.78 L1943.4 540.56 L1944.2 544.44 L1944.9 548.00 L1945.9 550.44 L1946.1 552.95 L1947.0 555.94 L1948.2 559.45 L1950.4 563.80 L1952.7 566.63 L1954.1 568.76 L1956.4 571.53 L1956.7 567.63 L1958.2 564.44 L1959.3 561.11 L1960.9 557.55 L1962.6 554.08 L1965.0 551.38 L1969.6 548.82 L1974.2 545.69 L1975.0 542.81 L1977.4 539.95 L1978.2 536.61 L1979.7 532.83 L1981.4 531.03 L1982.0 527.39 L1982.4 523.93 L1982.8 521.38 L1982.6 518.25 L1983.4 514.47 L1983.2 512.21 L1983.9 508.78 L1983.9 506.12 L1984.4 501.67 L1984.6 499.27 L1984.9 495.86 L1985.7 493.91 L1986.0 491.21 L1986.8 488.12 L1987.1 484.32 L1986.9 481.21 L1987.2 478.71 L1988.6 476.19 L1988.8 474.03 L1988.8 470.30 L1989.6 466.83 L1990.8 465.39 L1991.4 461.27 L1991.9 458.95 L1992.1 456.00 L1992.1 452.89 L1993.7 451.31 L1993.5 447.61 L1995.3 445.47 L1995.0 442.13 L1996.1 439.55 L1996.5 436.45 L1997.9 432.97 L1999.0 429.16 L1999.8 426.88 L2006.2 423.74 L2008.9 428.89 L2011.8 431.84 L2012.6 435.95 L2013.0 437.97 L2012.9 442.23 L2013.1 444.71 L2013.5 447.92 L2013.6 450.46 L2014.8 453.39 L2014.3 456.27 L2014.1 459.58 L2014.4 462.09 L2015.2 464.31 L2014.8 467.57 L2015.3 470.08 L2016.2 473.18 L2016.0 477.18 L2016.6 479.66 L2018.2 482.42 L2018.0 485.28 L2019.6 488.34 L2025.1 489.02 L2029.7 489.62 L2032.0 493.75 L2034.3 495.39 L2035.8 499.26 L2036.8 502.29 L2037.5 505.68 L2038.4 508.73 L2039.5 511.97 L2040.8 514.38 L2041.7 517.43 L2042.0 521.25 L2042.5 523.29 L2043.3 526.96 L2044.8 530.78 L2045.3 533.54 L2045.5 536.58 L2046.0 539.86 L2046.3 542.64 L2047.2 544.84 L2048.2 547.28 L2047.7 550.66 L2049.4 553.79 L2050.0 557.08 L2050.0 560.34 L2051.6 563.28 L2052.3 567.00 L2053.4 569.39 L2055.9 572.00 L2057.4 568.38 L2059.1 567.02 L2060.4 563.33 L2061.4 560.15 L2062.4 556.43 L2063.0 553.20 L2064.8 550.74 L2065.4 547.47 L2065.8 545.14 L2066.8 540.98 L2067.6 538.82 L2068.5 535.50 L2068.3 532.95 L2068.6 530.00 L2068.7 526.73 L2069.1 524.22 L2068.7 521.24 L2068.9 517.54 L2069.3 515.88 L2069.6 512.83 L2069.6 509.17 L2071.0 506.08 L2071.7 503.22 L2072.8 500.15 L2074.3 496.97 L2075.6 493.61 L2082.3 490.55 L2084.3 494.73 L2085.0 497.86 L2086.7 501.18 L2087.7 503.84 L2088.9 507.38 L2089.4 510.16 L2089.2 513.51 L2089.6 515.67 L2090.2 519.59 L2091.3 522.49 L2091.1 524.91 L2091.8 527.23 L2093.3 530.62 L2093.3 534.02 L2094.8 536.49 L2095.6 539.22 L2096.1 542.72 L2097.4 546.33 L2099.0 549.85 L2101.7 552.17 L2103.8 555.80 L2108.1 560.55 L2112.0 563.80 L2120.6 561.92 L2124.9 558.73 L2129.8 556.07 L2133.6 550.50 L2134.8 547.28 L2134.9 544.84 L2135.9 541.98 L2137.9 537.71 L2138.5 534.79 L2139.4 532.67 L2141.4 530.08 L2142.7 525.78 L2143.6 522.90 L2146.2 519.46 L2147.3 518.01 L2149.7 515.34 L2155.2 510.38 L2160.8 515.56 L2169.3 515.32 L2170.7 517.88 L2171.1 520.28 L2171.1 523.28 L2172.1 526.21 L2173.5 529.99 L2174.0 532.06 L2175.3 536.13 L2175.6 538.85 L2177.6 542.58 L2178.4 546.09 L2179.6 548.59 L2183.3 550.50 L2187.1 552.60 L2196.1 553.86 L2197.9 557.26 L2200.3 560.81 L2201.6 563.90 L2207.2 566.50 L2209.8 563.86 L2212.7 560.51 L2215.5 559.06 L2219.1 556.09"/>
<path class="c r" transform="scale(1,1.75)" d="M291.9 529.55 L298.6 529.73 L303.5 530.46 L304.5 534.46 L305.8 537.75 L307.7 540.90 L308.0 544.22 L308.0 547.32 L309.7 549.77 L310.0 553.43 L310.6 555.63 L311.4 558.87 L313.1 562.63 L313.6 564.82 L315.0 567.36 L316.0 569.95 L321.0 571.72 L320.6 569.47 L322.2 564.98 L322.0 561.59 L322.9 559.37 L323.7 555.61 L323.1 553.21 L323.8 549.96 L324.3 546.34 L324.8 543.36 L324.3 539.31 L324.6 536.10 L325.6 533.86 L328.6 530.88 L332.0 529.38 L334.8 531.58 L337.7 533.87 L338.5 536.62 L339.5 539.40 L340.0 542.66 L341.5 545.65 L342.5 549.56 L342.8 551.36 L343.2 555.50 L343.8 558.78 L345.2 561.56 L345.8 564.89 L346.5 566.62 L347.6 569.40 L348.5 572.76 L352.8 572.08 L353.6 568.99 L354.1 566.43 L355.0 564.35 L354.6 561.52 L356.5 558.61 L357.2 555.55 L357.8 551.18 L359.8 548.43 L365.1 544.14 L366.9 542.06 L369.0 538.92 L369.8 535.81 L371.0 532.60 L371.2 529.78 L371.5 525.52 L372.2 522.94 L373.2 520.39 L375.2 516.10 L377.2 511.99 L378.2 510.26 L379.5 506.56 L380.0 503.83 L380.8 500.11 L386.5 495.15 L389.2 498.62 L392.2 501.14 L394.3 503.28 L395.6 506.01 L396.9 509.96 L398.8 512.44 L401.3 515.86 L403.5 520.35 L404.6 523.43 L405.4 526.67 L406.0 531.05 L409.1 534.58 L412.5 537.39 L419.7 536.71 L420.0 533.89 L421.1 531.20 L422.6 527.49 L423.8 524.51 L425.0 519.73 L426.4 517.19 L434.2 516.66 L439.5 519.26 L440.4 521.61 L442.4 525.11 L444.6 528.64 L446.9 530.94 L450.4 533.19 L451.6 537.21 L453.6 540.68 L456.5 544.29 L458.5 546.11 L460.0 549.41 L459.6 552.78 L460.8 556.34 L463.0 558.73 L466.3 562.65 L467.7 567.16 L470.3 570.33 L475.0 572.33 L478.3 568.76 L480.1 566.29 L486.7 563.94 L491.5 568.49 L496.5 570.70 L497.7 568.58 L499.1 564.85 L499.7 561.63 L501.8 558.28 L502.5 556.85 L503.5 553.13 L503.3 548.83 L503.7 544.25 L509.1 544.77 L517.1 546.49 L519.6 549.47 L522.3 552.57 L523.1 554.63 L523.3 557.13 L523.7 561.01 L523.0 564.54 L523.8 566.70 L523.6 570.05 L525.0 567.06 L527.3 562.18 L528.7 559.59 L530.1 555.83 L532.7 554.78 L536.3 551.67 L543.5 548.95 L550.9 549.28 L558.4 546.44 L560.0 541.91 L562.0 539.51 L563.8 535.84 L565.3 532.78 L567.1 529.61 L574.3 530.07 L576.9 532.57 L580.6 534.64 L580.5 539.16 L581.8 541.01 L582.8 543.45 L583.7 546.92 L587.3 544.04 L588.8 539.80 L589.8 537.01 L590.5 534.71 L592.8 532.05 L593.0 528.17 L595.0 525.01 L596.0 522.08 L596.8 518.84 L597.1 515.40 L598.6 511.21 L601.7 509.05 L604.9 506.76 L607.8 510.07 L611.0 512.77 L611.7 516.02 L613.1 519.12 L614.7 521.40 L616.0 525.82 L617.4 528.59 L617.7 531.89 L618.0 534.38 L618.8 537.20 L619.7 541.28 L620.3 542.96 L622.2 545.62 L623.0 548.58 L626.8 546.73 L630.7 543.74 L634.9 541.27 L640.4 540.77 L644.0 543.28 L646.5 545.46 L649.5 547.79 L651.2 551.79 L652.1 554.09 L659.5 553.45 L667.0 552.98 L672.3 555.63 L676.8 559.13 L680.3 563.43 L679.6 558.45 L684.6 556.68 L689.5 553.44 L690.7 550.83 L692.9 546.77 L694.0 543.28 L695.9 541.23 L699.8 538.39 L703.6 535.37 L710.3 532.25 L712.6 535.47 L715.7 538.17 L718.5 540.30 L720.2 544.40 L723.2 548.17 L724.8 550.21 L729.9 553.49 L734.8 556.53 L737.7 559.01 L741.5 560.78 L743.8 557.54 L747.0 553.74 L748.4 551.61 L748.9 548.61 L750.2 544.04 L750.5 541.83 L751.4 538.66 L752.9 535.80 L753.8 532.48 L754.7 529.77 L756.1 526.17 L758.4 522.59 L763.2 521.45 L770.3 522.70 L777.6 526.62 L780.7 529.73 L783.7 533.42 L785.7 536.09 L788.7 538.18 L789.2 542.13 L790.5 544.70 L791.6 546.97 L797.8 546.77 L804.6 545.56 L806.5 549.96 L808.1 553.83 L816.2 554.75 L817.6 551.04 L819.1 548.50 L821.5 546.44 L821.2 543.45 L821.9 539.73 L822.7 536.85 L823.1 533.39 L823.2 530.94 L824.4 527.28 L824.6 524.54 L825.2 522.40 L826.7 518.97 L826.3 515.84 L827.2 513.24 L827.8 509.73 L829.2 506.45 L830.2 503.39 L830.9 500.21 L832.0 497.97 L832.7 495.24 L834.1 492.60 L836.2 488.19 L838.9 484.39 L845.1 489.04 L846.2 492.07 L846.6 496.22 L848.5 498.99 L849.6 502.74 L851.1 505.57 L851.2 508.86 L853.1 513.19 L853.9 516.08 L854.1 519.69 L855.6 522.36 L856.3 526.37 L857.5 529.32 L859.6 532.48 L861.3 535.65 L863.3 537.23 L866.2 541.24 L868.0 543.13 L869.8 545.45 L871.9 549.68 L873.8 552.79 L877.0 556.25 L882.7 557.65 L884.4 561.46 L885.7 565.86 L887.7 568.45 L889.7 565.54 L890.6 562.16 L892.3 559.23 L893.2 556.77 L895.0 553.30 L901.9 554.53 L909.8 555.95 L915.0 559.82 L920.3 555.61 L921.2 552.96 L921.5 550.56 L922.5 547.58 L923.9 544.62 L924.9 540.56 L924.6 539.00 L926.5 535.64 L926.1 533.37 L926.2 529.19 L927.6 527.65 L927.6 523.40 L928.5 520.94 L928.9 517.74 L928.4 514.78 L929.4 511.83 L929.4 508.81 L932.3 505.60 L935.2 501.95 L938.1 499.61 L942.6 496.19 L947.8 492.50 L952.5 497.23 L953.6 499.96 L954.8 503.86 L956.1 506.91 L956.4 509.38 L957.9 513.11 L959.6 517.07 L959.9 520.50 L962.9 523.03 L966.2 526.77 L966.5 530.50 L968.1 533.47 L969.9 536.94 L971.6 540.01 L972.5 544.03 L974.3 546.30 L976.2 548.84 L979.8 551.20 L981.8 554.28 L987.3 552.08 L994.9 556.29 L996.1 559.70 L997.3 561.59 L999.5 565.01 L999.9 568.13 L1002.0 571.51 L1003.7 567.70 L1005.1 564.89 L1007.8 561.56 L1010.8 559.06 L1014.7 556.46 L1019.8 554.85 L1021.1 550.60 L1020.9 547.51 L1021.8 543.21 L1022.0 539.76 L1022.8 537.35 L1023.4 533.79 L1023.9 530.98 L1025.2 528.11 L1025.7 524.92 L1031.3 523.07 L1036.1 525.19 L1036.8 527.86 L1037.2 530.84 L1038.7 533.54 L1038.9 538.04 L1040.2 539.74 L1045.3 542.83 L1048.3 538.28 L1050.4 535.17 L1052.9 531.99 L1054.0 527.98 L1056.2 524.65 L1058.7 528.30 L1062.0 530.22 L1062.2 534.00 L1063.5 536.54 L1064.3 538.77 L1065.3 542.87 L1067.1 545.01 L1067.4 548.32 L1067.9 551.82 L1068.9 553.78 L1069.1 556.82 L1069.8 560.43 L1070.3 563.18 L1070.4 566.42 L1071.8 568.79 L1073.4 571.12 L1074.2 568.93 L1075.7 565.26 L1076.5 560.62 L1077.0 558.74 L1078.8 556.29 L1079.6 553.31 L1080.3 555.46 L1079.9 558.02 L1080.5 562.27 L1079.4 564.13 L1079.6 567.04 L1079.5 571.40 L1085.4 566.94 L1087.2 562.50 L1088.6 560.30 L1089.1 555.50 L1091.3 552.51 L1096.7 555.60 L1100.1 559.33 L1107.3 555.40 L1109.8 553.14 L1112.7 550.53 L1115.9 546.91 L1123.6 549.37 L1125.5 551.76 L1128.8 556.08 L1131.1 558.42 L1132.7 560.76 L1134.6 564.15 L1136.5 567.45 L1137.3 572.11 L1140.1 567.88 L1141.6 563.57 L1147.3 561.14 L1152.2 560.63 L1155.3 564.39 L1157.8 568.16 L1159.8 564.99 L1161.0 561.44 L1162.7 559.37 L1164.7 555.89 L1168.5 554.30 L1171.9 551.73 L1174.7 548.32 L1177.5 545.63 L1178.1 542.80 L1177.8 540.03 L1179.3 535.81 L1178.7 533.18 L1179.3 530.58 L1182.2 527.40 L1184.6 525.86 L1186.1 522.49 L1187.3 519.33 L1188.9 515.43 L1190.9 512.44 L1195.2 508.57 L1199.0 510.80 L1200.8 514.14 L1206.4 514.51 L1207.3 517.64 L1208.1 521.37 L1208.1 524.29 L1208.7 527.50 L1209.3 531.63 L1209.8 534.82 L1210.1 537.40 L1210.2 540.92 L1209.9 543.51 L1211.0 546.24 L1212.8 550.40 L1214.7 552.42 L1215.1 556.36 L1216.0 558.83 L1217.6 561.70 L1218.0 563.96 L1220.4 561.79 L1221.5 559.73 L1222.4 556.71 L1226.8 553.89 L1229.9 551.57 L1236.1 551.33 L1242.9 554.91 L1245.6 557.82 L1247.6 560.69 L1249.3 558.11 L1250.5 554.74 L1252.3 550.15 L1253.7 548.25 L1255.9 543.71 L1257.8 540.18 L1259.6 537.37 L1261.3 534.03 L1262.3 532.74 L1268.5 534.89 L1270.1 539.52 L1272.1 542.09 L1273.1 546.17 L1274.1 549.11 L1274.8 551.37 L1276.5 554.40 L1277.6 557.21 L1277.4 553.87 L1278.3 551.43 L1279.5 546.77 L1280.4 544.24 L1280.9 540.49 L1282.0 538.30 L1283.2 534.89 L1283.8 532.08 L1284.9 527.46 L1285.6 525.58 L1287.3 522.35 L1288.1 518.78 L1288.8 515.12 L1289.0 511.88 L1289.7 508.96 L1293.9 507.99 L1294.3 511.28 L1295.2 514.92 L1295.2 518.29 L1296.7 521.39 L1296.5 525.14 L1297.9 528.38 L1298.9 531.37 L1300.6 534.85 L1301.0 536.93 L1302.6 539.98 L1303.9 543.91 L1305.1 547.89 L1306.8 550.45 L1308.4 555.22 L1313.1 550.10 L1313.9 547.76 L1315.7 544.76 L1316.9 541.81 L1317.5 538.68 L1318.7 535.10 L1320.9 532.62 L1322.8 529.39 L1323.9 524.49 L1325.9 522.37 L1328.2 517.42 L1329.7 515.60 L1330.4 512.11 L1331.0 508.43 L1331.8 505.58 L1333.0 502.78 L1333.0 500.85 L1334.0 497.57 L1334.5 494.61 L1337.0 491.32 L1338.3 486.89 L1340.7 482.91 L1345.8 485.59 L1346.8 489.71 L1348.7 493.36 L1349.8 496.21 L1350.8 499.65 L1352.7 502.79 L1353.4 504.73 L1354.5 509.27 L1355.6 511.04 L1356.2 514.01 L1359.9 517.03 L1362.0 519.48 L1362.6 522.95 L1363.9 525.82 L1365.1 529.70 L1366.8 531.69 L1367.8 535.08 L1369.0 538.11 L1369.6 542.14 L1371.2 546.61 L1371.8 549.12 L1373.1 546.69 L1374.9 544.22 L1376.7 541.12 L1376.7 537.10 L1377.9 534.10 L1377.7 531.47 L1378.6 529.00 L1378.2 525.67 L1379.1 523.82 L1379.8 521.28 L1379.4 517.75 L1379.6 514.08 L1380.6 511.66 L1380.9 508.86 L1381.2 505.88 L1382.0 503.52 L1382.3 500.33 L1382.2 497.80 L1382.5 493.92 L1382.9 491.15 L1383.2 488.29 L1383.8 486.12 L1384.5 483.55 L1385.1 479.74 L1385.8 477.13 L1386.3 474.42 L1387.6 470.81 L1390.6 468.17 L1392.1 471.98 L1394.0 474.73 L1394.8 479.00 L1394.9 482.19 L1395.8 483.86 L1395.5 488.11 L1395.2 491.03 L1395.8 492.53 L1395.6 495.51 L1396.0 499.48 L1397.0 501.67 L1397.2 505.81 L1398.1 507.83 L1399.0 510.42 L1398.5 514.01 L1399.8 517.21 L1400.6 520.65 L1401.3 523.57 L1403.1 527.45 L1404.1 530.07 L1405.0 533.53 L1413.2 534.20 L1420.5 536.00 L1427.7 537.83 L1431.4 542.21 L1433.7 538.97 L1436.4 535.17 L1436.6 531.90 L1437.1 529.15 L1437.7 526.54 L1437.3 523.26 L1438.7 521.28 L1439.0 517.67 L1438.4 514.83 L1440.4 510.82 L1441.5 509.16 L1441.8 505.25 L1442.9 501.95 L1448.7 499.97 L1454.3 504.72 L1456.2 507.38 L1457.2 510.33 L1458.4 514.26 L1459.9 516.22 L1461.3 520.18 L1462.0 521.74 L1463.6 526.11 L1465.4 528.62 L1466.8 531.14 L1468.3 534.45 L1469.0 537.86 L1470.1 541.05 L1472.0 544.36 L1472.6 546.14 L1474.3 549.27 L1475.5 553.58 L1476.1 556.59 L1478.0 559.71 L1480.1 562.68 L1480.5 563.53 L1482.7 566.88 L1485.0 570.79 L1485.3 567.26 L1486.7 564.78 L1486.9 561.80 L1488.0 558.55 L1488.5 556.79 L1490.6 552.92 L1491.1 549.22 L1492.0 546.94 L1493.6 544.13 L1494.9 540.82 L1496.7 538.18 L1498.3 535.11 L1499.8 531.67 L1503.3 534.97 L1504.5 538.20 L1505.5 541.29 L1506.3 544.08 L1505.9 547.21 L1507.2 550.16 L1508.2 553.95 L1510.2 556.56 L1511.5 559.54 L1512.7 562.22 L1518.0 562.49 L1521.2 560.51 L1523.9 556.71 L1523.3 552.93 L1524.8 551.00 L1524.4 547.64 L1525.5 543.66 L1525.6 540.78 L1526.7 539.10 L1527.2 535.67 L1527.7 531.97 L1528.0 530.37 L1528.7 525.90 L1530.3 523.33 L1530.2 520.90 L1536.3 521.34 L1541.7 525.69 L1548.6 525.48 L1558.3 527.30 L1558.6 529.43 L1560.2 532.91 L1561.5 535.23 L1562.5 539.00 L1563.9 541.66 L1565.8 543.61 L1566.8 547.32 L1574.1 545.53 L1581.2 545.93 L1582.4 547.90 L1583.4 551.84 L1584.7 554.20 L1586.5 557.25 L1587.7 560.53 L1587.9 563.06 L1588.7 558.74 L1589.8 556.22 L1590.3 553.34 L1590.0 550.42 L1590.5 546.49 L1591.2 544.14 L1591.5 541.14 L1596.0 538.28 L1599.9 534.76 L1606.2 533.03 L1609.4 530.73 L1612.6 527.92 L1619.0 528.62 L1620.4 525.30 L1622.3 522.75 L1623.4 519.79 L1624.4 517.33 L1627.2 513.56 L1629.9 509.31 L1631.8 506.47 L1634.2 502.34 L1635.9 499.17 L1642.9 498.18 L1644.1 495.43 L1646.4 490.63 L1647.6 488.59 L1653.8 487.06 L1658.7 491.19 L1660.0 494.61 L1661.0 498.95 L1661.4 500.81 L1662.9 504.69 L1663.7 508.29 L1664.7 511.29 L1665.3 513.46 L1665.5 515.98 L1666.4 519.54 L1666.8 522.98 L1667.9 525.28 L1668.1 529.07 L1668.9 532.13 L1670.1 535.07 L1670.9 537.10 L1671.5 540.33 L1673.1 544.68 L1674.4 546.82 L1675.2 551.41 L1677.1 554.29 L1679.4 550.82 L1681.1 548.74 L1682.0 546.17 L1685.6 542.67 L1689.2 540.22 L1691.3 543.26 L1693.3 546.23 L1695.7 548.32 L1698.7 551.05 L1698.9 553.27 L1699.9 557.14 L1700.0 560.62 L1700.0 563.60 L1700.8 565.55 L1701.1 568.24 L1707.5 568.85 L1715.6 571.29 L1722.2 572.15 L1725.3 570.14 L1726.8 567.41 L1729.0 563.54 L1731.7 560.85 L1734.5 558.29 L1736.5 555.92 L1744.1 555.39 L1753.2 555.96 L1757.0 558.61 L1762.0 561.23 L1765.9 559.25 L1769.2 555.23 L1776.0 555.63 L1779.3 557.73 L1781.5 561.89 L1786.5 563.11 L1790.5 566.96 L1794.2 569.60 L1798.5 572.44 L1801.4 568.76 L1803.7 566.71 L1807.7 564.34 L1810.5 560.51 L1811.6 558.12 L1812.7 555.07 L1814.3 552.52 L1815.7 548.70 L1816.1 545.11 L1817.0 542.58 L1818.9 539.90 L1820.2 536.91 L1820.8 533.96 L1821.7 529.57 L1823.1 527.31 L1825.0 522.34 L1831.2 521.41 L1835.8 523.79 L1838.2 526.67 L1839.3 530.44 L1840.5 533.32 L1841.7 536.19 L1842.9 537.69 L1845.3 541.66 L1847.3 544.51 L1848.2 547.74 L1850.0 550.30 L1851.5 554.71 L1852.5 558.19 L1857.9 553.57 L1859.4 550.76 L1860.2 547.46 L1862.1 544.23 L1863.4 540.71 L1864.6 537.54 L1865.4 534.77 L1866.4 531.48 L1868.1 527.92 L1868.6 525.50 L1871.7 522.01 L1874.0 520.37 L1877.4 516.53 L1879.8 515.58 L1879.9 515.26 L1881.1 511.46 L1882.2 508.50 L1883.4 503.66 L1888.2 502.33 L1892.3 506.88 L1894.3 510.49 L1895.3 513.87 L1896.6 517.59 L1897.6 520.00 L1898.9 522.14 L1900.4 526.06 L1901.7 527.61 L1902.6 531.15 L1903.9 533.73 L1906.2 537.11 L1906.8 540.65 L1910.7 544.27 L1912.1 541.24 L1912.9 536.72 L1913.5 533.70 L1914.0 530.47 L1915.5 527.32 L1916.2 524.36 L1917.0 521.61 L1917.4 517.38 L1917.9 515.35 L1922.8 510.75 L1928.7 511.96 L1930.5 514.12 L1932.3 517.42 L1933.7 520.39 L1936.1 525.62 L1936.8 529.25 L1938.4 532.38 L1940.2 534.90 L1940.9 539.80 L1943.7 543.64 L1947.2 543.61 L1955.4 542.80 L1958.2 539.80 L1960.1 534.75 L1960.8 531.97 L1963.1 534.61 L1965.5 536.88 L1966.6 540.60 L1972.5 543.39 L1977.6 546.28 L1980.0 548.18 L1980.8 551.86 L1983.1 554.22 L1985.8 557.33 L1988.3 560.94 L1989.6 558.11 L1990.5 554.57 L1992.1 550.27 L1993.2 547.98 L1993.0 545.75 L1993.2 542.84 L1994.2 539.56 L1994.7 536.16 L1994.7 533.16 L1996.2 529.62 L1995.4 527.07 L1995.6 524.11 L1996.8 521.29 L1996.1 518.54 L1997.3 515.69 L1997.2 513.10 L1997.4 510.15 L1997.7 507.83 L1997.0 503.63 L1997.9 500.71 L1998.1 498.47 L1999.2 495.62 L1999.1 493.76 L1999.7 490.21 L1999.6 486.36 L2000.9 484.07 L2000.2 480.66 L2000.9 478.94 L2001.4 476.36 L2002.6 472.39 L2003.2 470.12 L2003.8 467.72 L2004.3 463.50 L2005.2 461.28 L2006.7 456.80 L2008.9 453.93 L2010.7 451.32 L2014.1 449.45 L2015.2 452.70 L2017.4 455.91 L2019.2 457.69 L2020.3 460.50 L2020.3 463.41 L2020.8 467.96 L2021.6 470.82 L2022.3 472.76 L2022.6 476.96 L2022.9 479.60 L2024.2 482.86 L2023.5 485.88 L2024.0 487.86 L2023.9 490.70 L2024.2 494.95 L2024.7 496.68 L2025.1 499.53 L2025.0 503.08 L2025.7 505.43 L2026.0 508.06 L2025.9 512.23 L2026.9 514.99 L2026.8 517.48 L2028.1 521.24 L2029.0 523.41 L2029.7 527.82 L2030.4 530.44 L2030.9 532.96 L2031.5 536.38 L2033.2 540.83 L2033.3 544.04 L2036.4 546.84 L2038.6 548.88 L2044.8 548.98 L2045.4 545.53 L2046.3 541.81 L2047.5 539.00 L2048.6 534.89 L2057.1 533.51 L2064.2 533.81 L2065.0 529.44 L2066.4 527.18 L2067.5 523.13 L2067.5 520.58 L2068.3 516.97 L2068.8 513.27 L2069.3 510.97 L2069.6 507.45 L2070.6 505.28 L2071.3 502.21 L2071.3 499.82 L2072.6 495.35 L2072.7 493.73 L2073.4 489.77 L2075.0 487.71 L2075.1 484.21 L2079.3 481.21 L2082.1 479.69 L2088.3 481.74 L2088.8 484.29 L2089.6 488.43 L2090.5 491.34 L2091.5 494.33 L2092.1 496.48 L2093.3 500.35 L2093.7 503.09 L2094.8 505.75 L2095.3 509.66 L2095.4 512.09 L2096.7 515.12 L2097.6 519.66 L2097.8 521.26 L2098.7 524.38 L2099.0 527.59 L2099.8 531.31 L2101.1 533.94 L2101.9 537.47 L2102.4 541.23 L2104.2 543.68 L2104.5 547.31 L2105.7 551.37 L2108.2 552.66 L2111.8 556.63 L2118.5 557.53 L2124.3 561.44 L2127.1 563.21 L2129.0 565.90 L2131.7 569.42 L2133.6 564.93 L2137.3 561.41 L2138.3 557.83 L2140.5 553.90 L2141.8 551.50 L2145.1 548.77 L2148.3 544.36 L2150.9 542.16 L2157.9 545.92 L2160.7 549.95 L2162.2 552.13 L2163.3 555.75 L2167.5 559.81 L2169.2 556.52 L2170.1 554.67 L2170.7 551.47 L2172.6 547.91 L2173.1 545.20 L2174.8 542.15 L2175.2 539.18 L2176.6 535.24 L2177.8 532.78 L2179.4 528.56 L2180.4 525.93 L2185.9 525.42 L2187.8 527.99 L2189.7 529.63 L2191.2 533.01 L2193.0 536.74 L2194.3 539.47 L2202.2 539.36 L2207.1 535.52 L2214.5 534.40 L2217.2 538.40 L2219.1 540.59"/>
<path class="c b" transform="scale(1,1.75)" d="M292.5 563.98 L295.9 560.21 L298.4 555.77 L299.5 552.02 L302.0 548.25 L309.1 548.26 L312.2 551.37 L316.0 554.26 L322.0 555.67 L322.3 559.50 L323.9 562.65 L325.2 565.63 L325.6 567.92 L327.6 571.65 L327.3 567.75 L328.8 564.71 L329.8 561.43 L330.2 558.22 L330.7 553.84 L332.8 550.76 L334.6 547.69 L341.6 548.89 L345.4 552.24 L349.0 554.77 L354.0 555.45 L354.6 558.70 L355.1 561.38 L356.7 564.95 L357.6 568.58 L357.2 571.05 L358.6 567.62 L360.3 566.03 L361.8 563.02 L363.6 560.02 L365.1 563.48 L367.8 566.78 L370.1 570.70 L371.8 565.99 L371.7 562.84 L373.6 560.05 L373.6 556.08 L374.7 553.62 L375.3 549.46 L376.4 547.45 L377.5 543.04 L383.7 540.58 L385.9 542.51 L388.9 545.37 L390.5 549.18 L392.2 553.23 L393.3 556.04 L396.0 558.39 L397.6 562.29 L399.6 563.94 L402.5 562.04 L405.0 558.59 L407.3 554.80 L410.4 551.43 L411.5 548.84 L411.7 545.82 L412.6 542.73 L414.2 541.07 L416.0 537.69 L419.3 533.68 L421.1 530.17 L421.7 527.81 L423.2 525.14 L424.6 521.59 L429.5 520.92 L431.7 524.61 L433.3 527.08 L435.0 530.38 L436.5 532.81 L438.4 537.63 L439.1 540.72 L441.2 543.61 L442.7 547.33 L444.4 549.40 L446.8 554.11 L447.5 550.35 L449.2 547.14 L450.9 543.72 L451.3 540.70 L452.9 537.89 L453.6 533.71 L454.7 532.11 L455.4 528.49 L461.4 528.07 L466.2 524.37 L468.1 526.92 L470.1 530.77 L471.4 534.18 L474.2 535.96 L477.6 539.28 L478.9 541.82 L480.6 545.93 L482.4 547.76 L483.7 550.62 L484.7 554.60 L487.0 556.38 L487.9 560.61 L493.3 562.61 L496.9 558.95 L500.7 555.85 L503.4 553.05 L506.6 549.79 L513.2 552.51 L520.1 551.40 L529.5 553.81 L534.8 555.56 L535.4 558.53 L536.3 562.88 L536.3 564.52 L536.7 568.06 L536.2 570.32 L540.0 566.99 L541.7 563.60 L545.3 561.71 L550.0 558.64 L557.0 558.29 L560.2 562.19 L563.6 564.26 L566.7 566.82 L569.4 570.00 L577.0 568.94 L581.8 567.74 L584.2 564.55 L585.9 561.56 L587.2 558.72 L588.7 555.44 L591.0 551.93 L592.4 548.67 L594.5 546.28 L596.0 542.48 L598.7 540.19 L605.4 535.56 L608.7 538.50 L612.9 542.19 L614.3 545.43 L615.8 547.54 L616.9 550.25 L617.6 554.05 L618.9 557.11 L619.0 560.27 L620.8 564.56 L621.5 567.96 L621.1 564.86 L622.2 561.38 L623.3 559.66 L623.7 556.91 L624.2 553.58 L624.7 549.62 L625.5 546.86 L625.3 544.83 L625.9 540.70 L626.3 537.56 L627.7 536.21 L628.2 532.36 L628.8 528.99 L628.9 526.69 L628.7 523.24 L629.9 520.74 L630.6 518.06 L630.2 515.49 L632.1 511.63 L634.5 508.47 L636.1 503.58 L641.2 504.66 L643.0 508.08 L645.5 510.95 L646.5 513.72 L646.8 516.25 L648.3 520.13 L648.4 523.85 L649.6 526.98 L650.9 529.00 L651.3 533.17 L653.0 535.24 L653.3 538.86 L654.7 540.71 L655.1 543.44 L655.8 545.96 L658.8 550.32 L661.7 554.49 L666.9 557.70 L669.3 560.30 L673.0 562.75 L680.4 565.90 L679.7 566.80 L687.3 567.20 L694.6 566.92 L695.2 563.22 L697.1 560.16 L697.8 556.21 L698.5 553.42 L699.4 549.71 L700.0 547.58 L700.0 545.13 L700.2 541.50 L701.6 538.65 L701.1 535.29 L702.2 532.69 L703.2 528.69 L703.5 525.97 L704.1 523.20 L704.5 520.23 L705.3 516.36 L706.6 514.26 L708.0 510.09 L709.4 507.27 L714.5 506.09 L719.3 511.48 L720.1 513.12 L721.7 516.20 L722.0 518.73 L723.1 522.07 L724.0 525.19 L725.1 529.15 L725.3 532.46 L727.6 534.76 L727.9 537.82 L729.8 541.48 L731.0 543.65 L732.4 546.99 L737.4 545.52 L738.8 542.92 L740.6 540.18 L741.4 535.66 L742.0 533.77 L743.0 530.39 L744.3 527.44 L745.4 523.62 L746.6 520.55 L748.3 517.60 L750.8 513.57 L752.7 510.45 L756.5 507.65 L759.1 511.51 L761.3 514.20 L764.6 517.35 L766.7 520.77 L767.8 523.19 L768.8 526.09 L769.9 530.71 L772.1 534.44 L773.8 536.96 L776.9 539.95 L779.6 543.28 L781.0 546.71 L782.5 549.19 L783.4 552.47 L785.5 556.86 L786.6 558.93 L788.7 561.65 L790.1 565.16 L795.8 566.61 L803.0 567.54 L805.2 564.01 L808.9 559.97 L809.7 557.44 L810.3 554.61 L811.7 550.90 L812.8 548.09 L813.3 546.46 L815.7 543.60 L817.3 541.07 L818.9 537.27 L820.5 534.50 L822.6 530.03 L825.2 527.95 L826.6 523.77 L828.5 519.60 L833.5 519.29 L838.8 520.35 L840.1 523.91 L841.6 526.85 L842.9 530.99 L844.5 534.11 L846.8 537.94 L849.2 541.34 L852.0 546.23 L859.3 548.04 L863.0 550.82 L866.2 552.28 L866.7 556.60 L868.1 559.34 L868.6 561.40 L869.4 564.36 L872.0 566.46 L875.4 569.27 L877.5 566.79 L878.6 563.63 L880.8 561.68 L888.0 557.10 L891.2 561.35 L893.6 566.04 L896.5 561.58 L899.0 558.64 L899.9 555.12 L899.8 552.15 L900.8 549.26 L901.3 546.79 L902.0 544.16 L903.1 540.39 L904.3 537.82 L904.8 533.19 L906.2 529.93 L912.0 528.56 L916.5 533.83 L917.7 535.63 L919.3 539.46 L920.8 542.49 L921.9 546.47 L923.4 549.69 L923.7 552.69 L924.5 554.99 L925.2 558.75 L925.6 560.50 L926.5 565.29 L928.8 567.88 L929.5 570.72 L929.5 568.06 L931.1 565.08 L930.8 562.20 L932.0 560.12 L932.3 556.82 L932.8 553.38 L932.7 551.33 L934.3 547.36 L936.0 543.75 L936.8 540.11 L938.5 537.48 L939.1 534.48 L940.8 531.02 L940.8 528.09 L942.5 525.90 L945.2 522.81 L947.8 520.31 L947.5 515.86 L949.0 512.42 L948.7 509.12 L949.1 507.15 L952.6 504.66 L956.7 501.57 L959.3 499.42 L963.1 496.38 L964.3 498.81 L966.0 500.84 L967.4 504.89 L970.4 506.76 L972.4 508.85 L975.8 512.09 L977.9 514.84 L979.8 517.81 L980.7 520.31 L981.6 524.18 L981.9 526.59 L983.8 530.83 L985.4 535.96 L987.0 538.93 L987.4 542.38 L988.8 544.98 L988.9 549.65 L990.4 551.60 L990.4 554.79 L991.8 558.32 L992.2 560.58 L993.1 563.67 L994.8 567.57 L996.5 571.80 L996.6 569.40 L997.7 566.14 L998.3 562.66 L999.0 558.88 L999.6 556.10 L1001.2 553.33 L1001.5 550.29 L1003.0 547.10 L1003.3 544.15 L1005.3 539.67 L1007.8 536.17 L1008.8 531.40 L1011.3 527.95 L1013.3 525.04 L1017.7 526.59 L1020.0 529.41 L1021.8 532.67 L1023.6 536.06 L1024.5 538.55 L1025.7 541.80 L1026.9 545.09 L1027.6 548.65 L1029.4 551.56 L1029.3 554.86 L1031.4 556.96 L1032.2 559.95 L1032.2 557.56 L1033.1 554.05 L1033.1 551.66 L1034.0 548.46 L1035.4 545.95 L1035.0 544.16 L1036.5 540.50 L1038.0 536.64 L1038.7 535.10 L1039.8 531.12 L1041.2 527.88 L1044.4 524.97 L1047.7 521.51 L1053.1 525.19 L1053.8 528.86 L1055.1 530.96 L1057.1 533.83 L1058.3 538.26 L1059.6 540.46 L1061.8 543.01 L1063.4 545.93 L1065.4 542.63 L1066.5 539.58 L1068.9 536.94 L1071.7 533.98 L1074.7 529.85 L1079.5 530.80 L1080.6 528.85 L1085.7 523.80 L1091.1 523.67 L1096.2 525.59 L1097.5 528.34 L1100.2 531.29 L1101.7 535.99 L1102.8 538.76 L1103.3 541.66 L1104.1 545.05 L1105.2 549.54 L1106.2 552.59 L1106.8 555.05 L1107.6 558.79 L1108.6 561.96 L1111.3 565.10 L1112.2 567.23 L1113.8 570.38 L1115.8 568.35 L1118.0 563.64 L1119.6 561.82 L1125.4 557.51 L1132.0 556.47 L1134.3 552.84 L1136.3 549.46 L1138.3 545.41 L1139.2 543.01 L1139.4 539.87 L1140.2 537.23 L1141.8 533.74 L1147.2 530.07 L1153.6 530.77 L1154.9 534.39 L1156.0 537.13 L1157.0 540.95 L1158.2 544.05 L1159.2 547.25 L1159.5 549.31 L1161.0 552.22 L1161.1 556.62 L1164.5 559.58 L1167.1 563.88 L1168.9 566.51 L1170.7 569.34 L1172.9 565.49 L1175.6 562.53 L1184.7 560.94 L1188.4 557.57 L1192.2 556.45 L1193.5 553.13 L1195.3 550.73 L1196.7 546.29 L1197.1 542.88 L1201.0 540.37 L1204.2 538.30 L1206.3 536.01 L1208.4 532.82 L1210.4 530.57 L1217.1 529.39 L1220.5 525.12 L1223.4 523.41 L1224.2 519.03 L1224.1 516.06 L1225.0 513.06 L1226.3 509.95 L1227.5 506.41 L1227.2 504.03 L1227.8 500.86 L1228.0 497.73 L1229.1 494.55 L1230.1 491.69 L1230.3 488.20 L1230.5 485.98 L1232.0 482.30 L1231.9 480.17 L1232.5 476.54 L1233.9 473.22 L1236.8 470.24 L1239.5 466.68 L1240.6 469.50 L1242.3 473.19 L1244.8 474.90 L1246.2 479.70 L1247.8 481.70 L1250.3 485.00 L1254.0 489.06 L1257.3 491.00 L1260.3 488.26 L1264.9 484.98 L1267.5 482.99 L1271.7 478.67 L1273.0 475.09 L1275.1 473.22 L1277.4 469.91 L1277.5 466.97 L1278.5 462.80 L1279.9 461.20 L1280.8 457.82 L1282.1 455.47 L1284.4 451.98 L1289.2 455.35 L1290.8 458.43 L1292.3 461.59 L1293.0 465.08 L1293.5 468.54 L1294.6 470.78 L1295.7 473.71 L1295.5 477.37 L1296.7 481.31 L1297.6 483.19 L1297.7 486.91 L1298.4 489.09 L1298.9 492.56 L1298.6 495.50 L1299.4 498.58 L1300.4 501.34 L1301.0 504.88 L1300.6 507.48 L1301.8 510.32 L1301.9 513.20 L1302.5 515.46 L1302.0 518.35 L1303.5 521.97 L1303.5 524.64 L1303.3 527.67 L1303.3 530.65 L1303.8 534.27 L1303.7 538.11 L1304.4 539.79 L1304.1 544.46 L1304.7 546.28 L1304.7 549.49 L1305.5 552.60 L1305.1 556.49 L1305.4 558.83 L1306.1 562.06 L1306.8 565.64 L1306.8 568.58 L1307.5 572.20 L1310.2 569.98 L1312.6 567.14 L1314.8 563.64 L1316.9 562.41 L1319.2 558.01 L1320.8 556.62 L1321.0 552.41 L1320.7 550.24 L1321.8 546.53 L1321.9 543.68 L1322.4 539.76 L1322.4 537.58 L1323.4 533.76 L1323.9 531.15 L1323.6 527.50 L1324.5 525.63 L1324.7 521.62 L1324.8 518.25 L1325.3 516.34 L1325.8 513.21 L1326.5 509.24 L1326.9 505.77 L1326.5 502.62 L1327.2 500.28 L1326.8 496.85 L1327.3 493.78 L1328.6 490.77 L1328.8 488.31 L1329.3 484.99 L1329.3 481.97 L1330.7 479.13 L1330.9 475.54 L1331.2 473.30 L1331.6 470.74 L1332.2 466.79 L1332.6 465.05 L1333.8 461.37 L1334.1 459.47 L1333.9 455.63 L1335.4 452.28 L1336.8 449.19 L1337.3 447.03 L1339.1 443.64 L1340.4 440.66 L1345.2 445.76 L1347.0 449.44 L1348.1 451.07 L1348.7 455.52 L1349.0 458.01 L1350.7 460.55 L1351.9 463.80 L1352.1 467.51 L1353.5 469.77 L1354.5 473.20 L1356.7 477.41 L1357.2 480.38 L1358.7 483.00 L1360.6 487.20 L1365.4 483.83 L1367.0 481.20 L1368.0 477.08 L1368.7 474.96 L1370.1 471.20 L1371.0 468.32 L1371.6 464.41 L1372.4 462.47 L1371.9 458.20 L1372.2 456.08 L1372.9 451.54 L1373.2 449.07 L1374.3 445.24 L1373.9 443.23 L1374.2 440.18 L1374.6 437.99 L1375.4 435.08 L1375.9 432.12 L1375.7 428.06 L1375.8 425.27 L1376.5 422.79 L1376.9 419.79 L1377.0 417.10 L1377.2 414.16 L1377.9 411.82 L1378.1 407.74 L1378.9 404.97 L1378.9 401.93 L1379.8 400.19 L1379.7 396.56 L1380.2 393.37 L1380.4 390.63 L1381.6 387.88 L1382.4 383.49 L1384.5 379.79 L1387.9 377.23 L1391.2 381.87 L1391.2 383.98 L1392.1 387.25 L1392.4 390.92 L1392.8 393.86 L1393.4 396.66 L1393.6 400.19 L1393.5 403.21 L1394.6 405.81 L1394.3 407.69 L1394.8 411.80 L1396.0 413.99 L1395.6 416.39 L1396.6 419.26 L1396.4 423.43 L1397.5 425.76 L1397.8 427.84 L1397.8 431.54 L1397.9 433.72 L1398.6 437.49 L1398.3 439.17 L1398.9 443.44 L1398.9 446.09 L1399.9 448.28 L1399.3 451.42 L1399.7 453.89 L1399.8 458.43 L1400.6 459.97 L1400.7 462.90 L1400.0 467.01 L1400.8 469.70 L1401.1 472.88 L1401.3 475.86 L1400.8 478.72 L1401.4 480.89 L1402.1 483.76 L1401.7 487.87 L1402.9 490.21 L1403.2 492.92 L1403.0 496.89 L1404.1 500.09 L1404.6 501.48 L1404.3 505.53 L1404.7 508.41 L1405.7 511.10 L1406.4 513.47 L1407.1 517.29 L1407.4 519.67 L1410.7 523.12 L1412.3 520.05 L1413.9 515.83 L1414.7 513.45 L1416.3 510.38 L1418.6 506.14 L1421.0 502.64 L1426.0 503.90 L1426.8 506.85 L1428.6 510.63 L1429.0 514.40 L1431.2 516.26 L1432.1 518.78 L1434.8 522.66 L1436.6 524.62 L1437.1 528.05 L1438.8 530.87 L1440.4 533.01 L1442.1 530.66 L1445.8 527.43 L1450.9 523.69 L1456.5 528.67 L1456.8 531.71 L1458.8 534.99 L1460.0 537.07 L1462.3 540.21 L1465.4 543.66 L1468.3 545.54 L1474.1 542.72 L1480.1 540.70 L1480.1 540.60 L1481.6 537.56 L1484.2 533.71 L1487.0 532.00 L1490.2 534.84 L1492.2 537.76 L1493.6 540.14 L1494.1 544.15 L1495.9 547.31 L1496.8 550.14 L1497.8 554.37 L1497.5 556.95 L1498.6 560.78 L1499.9 565.10 L1501.6 567.85 L1503.2 570.13 L1504.5 568.13 L1505.7 563.65 L1507.3 560.92 L1507.2 558.69 L1508.4 555.14 L1509.2 553.33 L1509.2 549.34 L1509.6 546.41 L1510.2 544.51 L1511.1 540.86 L1512.7 537.51 L1513.3 534.23 L1514.2 530.14 L1517.1 527.36 L1518.6 524.89 L1523.5 528.55 L1525.1 530.96 L1527.1 536.24 L1528.6 537.92 L1530.9 541.11 L1531.9 545.25 L1536.3 547.55 L1539.4 548.93 L1542.9 551.84 L1544.7 556.78 L1547.4 559.08 L1550.7 564.03 L1556.0 562.50 L1561.4 560.04 L1565.1 556.05 L1572.5 553.22 L1572.7 551.28 L1573.2 547.85 L1574.4 545.54 L1574.1 541.74 L1574.9 538.85 L1575.3 536.01 L1576.7 532.62 L1577.5 529.36 L1579.6 525.93 L1580.7 523.56 L1581.8 519.96 L1583.8 516.95 L1585.2 512.36 L1587.4 509.10 L1590.4 511.24 L1592.5 514.41 L1592.4 518.73 L1594.2 521.54 L1595.2 524.50 L1595.6 528.17 L1598.1 530.99 L1599.5 535.00 L1599.0 537.88 L1600.2 541.68 L1600.6 544.82 L1600.5 547.81 L1601.2 549.68 L1600.7 553.37 L1601.3 555.37 L1602.1 558.98 L1602.6 562.72 L1602.4 566.03 L1603.8 568.25 L1603.8 571.47 L1605.3 567.78 L1606.8 564.54 L1608.2 561.30 L1611.5 557.17 L1615.9 553.90 L1618.3 550.73 L1621.0 548.33 L1628.4 545.12 L1637.0 544.84 L1640.0 547.71 L1642.4 550.70 L1644.6 554.51 L1646.3 559.77 L1648.8 561.94 L1651.8 565.20 L1654.5 568.87 L1656.9 572.24 L1660.3 567.31 L1662.8 564.28 L1663.0 560.71 L1663.5 557.91 L1664.8 554.64 L1672.0 552.43 L1672.9 548.97 L1675.4 544.99 L1677.5 543.04 L1678.9 538.95 L1680.2 537.17 L1680.8 533.00 L1683.0 529.90 L1684.2 526.49 L1686.0 524.19 L1688.4 519.69 L1691.4 519.31 L1697.0 522.26 L1698.2 526.29 L1698.5 529.01 L1699.1 531.84 L1700.9 535.91 L1701.7 538.16 L1702.6 542.62 L1704.0 546.17 L1709.1 549.82 L1715.1 551.19 L1717.6 552.95 L1720.9 556.35 L1722.3 558.94 L1722.7 561.84 L1724.7 565.76 L1727.3 562.56 L1729.6 558.50 L1730.3 561.51 L1731.4 565.26 L1733.7 568.48 L1733.2 564.80 L1734.6 560.98 L1734.1 559.02 L1735.4 555.41 L1735.3 552.73 L1736.8 548.23 L1737.1 545.80 L1738.1 542.20 L1738.7 540.11 L1738.8 536.30 L1740.4 533.78 L1740.3 530.65 L1741.1 528.49 L1741.9 525.69 L1743.2 522.70 L1743.2 519.08 L1744.2 516.05 L1745.2 513.71 L1745.6 510.31 L1746.4 506.89 L1748.2 504.02 L1748.7 501.38 L1749.5 498.65 L1749.4 496.41 L1750.9 493.09 L1751.8 489.15 L1752.7 486.31 L1752.6 483.95 L1754.2 481.03 L1754.4 478.19 L1756.0 475.32 L1756.3 471.65 L1756.8 468.65 L1758.0 466.71 L1758.0 462.25 L1760.7 459.18 L1763.5 457.20 L1766.2 460.06 L1769.2 463.60 L1770.0 467.02 L1770.8 469.56 L1771.3 472.94 L1771.9 476.10 L1772.8 478.34 L1773.3 482.16 L1774.1 484.88 L1774.0 487.50 L1775.0 490.04 L1775.1 493.89 L1776.0 496.34 L1777.1 499.69 L1777.1 501.37 L1777.6 505.93 L1777.8 507.99 L1778.0 511.81 L1779.3 513.64 L1780.1 516.36 L1780.7 519.58 L1781.4 522.18 L1781.7 526.40 L1782.7 529.54 L1783.4 531.53 L1783.8 534.79 L1784.0 537.73 L1784.8 541.87 L1785.8 545.01 L1786.4 547.09 L1786.9 549.45 L1786.4 553.91 L1787.9 556.56 L1789.3 558.59 L1791.5 563.41 L1793.2 559.83 L1795.0 556.37 L1795.2 553.44 L1796.3 549.12 L1797.6 546.37 L1799.1 543.86 L1799.5 539.84 L1803.1 537.28 L1805.1 534.35 L1807.9 530.39 L1809.7 527.49 L1812.6 523.64 L1814.4 519.90 L1816.3 516.97 L1818.0 513.09 L1819.1 510.21 L1820.4 507.24 L1821.2 503.84 L1823.2 501.59 L1824.8 498.80 L1825.3 494.80 L1827.4 492.82 L1829.1 489.98 L1830.7 485.99 L1832.1 483.93 L1840.1 480.34 L1843.0 482.56 L1845.2 486.01 L1847.1 489.13 L1848.3 492.46 L1849.5 495.73 L1850.1 499.03 L1851.4 501.53 L1852.4 505.27 L1854.4 507.75 L1854.6 511.20 L1856.1 515.34 L1856.8 517.15 L1857.5 520.76 L1857.7 523.91 L1858.8 526.85 L1859.5 530.58 L1861.4 533.99 L1861.4 536.76 L1863.0 538.82 L1863.9 542.57 L1864.6 545.83 L1866.9 548.64 L1868.5 551.23 L1870.7 554.61 L1875.5 555.94 L1879.8 555.58 L1879.9 558.74 L1880.0 563.49 L1881.2 559.77 L1882.4 556.81 L1884.4 553.48 L1884.8 550.68 L1890.8 546.00 L1897.9 546.22 L1900.8 549.39 L1902.4 551.53 L1905.7 554.37 L1912.1 553.64 L1914.2 550.63 L1916.7 547.92 L1918.3 543.24 L1925.0 543.69 L1927.8 547.26 L1931.0 550.12 L1931.6 553.63 L1932.7 558.09 L1933.9 561.41 L1936.1 564.91 L1937.1 566.42 L1937.5 570.40 L1943.4 566.43 L1943.8 563.05 L1945.6 559.98 L1946.0 557.09 L1947.7 555.34 L1949.0 551.81 L1956.4 551.41 L1965.1 551.07 L1969.1 551.98 L1968.7 549.27 L1969.5 545.39 L1970.1 542.32 L1970.9 539.29 L1971.4 536.77 L1971.9 533.41 L1971.6 530.90 L1973.5 526.82 L1975.5 524.04 L1978.2 519.98 L1978.6 517.36 L1979.8 513.38 L1980.6 510.09 L1981.4 506.78 L1983.4 504.13 L1984.7 499.47 L1987.2 495.50 L1991.8 492.88 L1997.6 491.20 L1999.0 494.26 L1999.2 497.47 L2000.5 502.09 L2000.8 503.66 L2003.0 508.60 L2003.4 512.02 L2004.4 514.63 L2006.5 518.69 L2007.4 521.31 L2008.9 525.15 L2008.7 528.29 L2010.0 530.94 L2009.8 533.55 L2010.2 537.82 L2010.7 540.74 L2012.2 543.43 L2014.3 548.12 L2015.1 551.15 L2021.4 553.07 L2021.6 550.67 L2022.7 546.67 L2023.4 543.99 L2024.8 540.03 L2027.0 537.51 L2027.8 533.89 L2029.6 530.88 L2037.6 529.44 L2038.2 534.41 L2040.2 537.70 L2041.5 540.74 L2044.1 545.46 L2048.4 542.51 L2051.9 540.39 L2059.0 539.78 L2061.1 542.99 L2062.6 546.35 L2064.3 549.33 L2066.6 552.19 L2068.6 556.42 L2071.4 561.54 L2072.5 564.36 L2073.5 568.48 L2075.5 571.59 L2078.5 567.67 L2081.3 565.64 L2085.8 569.40 L2086.9 567.19 L2086.7 564.24 L2086.2 560.72 L2086.6 558.39 L2087.7 554.43 L2087.3 551.02 L2087.9 548.51 L2087.4 545.25 L2093.1 543.91 L2097.6 539.89 L2102.6 537.24 L2108.4 535.88 L2112.7 537.39 L2116.6 541.91 L2120.8 545.06 L2129.1 544.81 L2130.5 540.96 L2131.5 537.62 L2131.9 534.88 L2133.7 530.95 L2133.5 528.18 L2135.5 524.70 L2135.5 521.43 L2136.0 518.91 L2137.2 515.41 L2138.3 513.46 L2139.4 510.86 L2139.3 506.63 L2140.8 504.59 L2141.8 500.91 L2143.2 497.44 L2143.8 493.80 L2146.2 491.95 L2147.9 487.87 L2149.4 484.67 L2152.1 489.05 L2154.9 491.59 L2155.7 494.14 L2158.0 498.06 L2158.8 500.38 L2160.5 504.06 L2161.3 508.09 L2162.4 510.99 L2163.3 514.62 L2166.3 516.94 L2167.6 520.45 L2169.5 523.72 L2174.4 521.69 L2179.7 525.92 L2181.7 527.97 L2184.2 531.91 L2186.0 535.78 L2187.8 539.12 L2189.5 541.07 L2190.9 544.40 L2195.9 543.44 L2198.0 539.93 L2199.2 537.07 L2201.1 533.39 L2201.6 529.94 L2209.1 529.66 L2212.0 533.61 L2215.0 535.21 L2215.9 538.58 L2216.9 542.39 L2217.0 545.21 L2217.7 547.66 L2219.1 550.93"/>
<text class="t" text-anchor="end" transform="translate(262.0,1118.0) scale(1.000,1.020)" style="font-size:86px">20</text>
<text class="t" text-anchor="end" transform="translate(262.0,1312.0) scale(1.000,1.020)" style="font-size:86px">10</text>
<text class="t" text-anchor="end" transform="translate(262.0,1506.5) scale(1.000,1.020)" style="font-size:86px">0</text>
<text class="t" transform="translate(1203.0,1252.0) scale(1.000,1.020)" style="font-size:86px">C16</text>
<rect class="ax" x="289" y="1091.5" width="1929.5" height="388.5"/>
<rect x="2218.5" y="1084.5" width="7.0" height="7.0"/><rect x="2218.5" y="1480" width="7.0" height="7.0"/>
<line class="ax" x1="289" y1="1286" x2="316" y2="1286"/>
<line class="ax" x1="611.5" y1="1480" x2="611.5" y2="1456"/>
<line class="ax" x1="933.2" y1="1480" x2="933.2" y2="1456"/>
<line class="ax" x1="1254.5" y1="1480" x2="1254.5" y2="1456"/>
<line class="ax" x1="1575.0" y1="1480" x2="1575.0" y2="1456"/>
<line class="ax" x1="1897.8" y1="1480" x2="1897.8" y2="1456"/>
<line class="c o" style="stroke-linecap:butt;stroke-width:8.7" x1="289" y1="1155.5" x2="2220.0" y2="1155.5"/>
<path class="c g" transform="scale(1,1.75)" d="M290.4 787.81 L291.8 784.98 L293.1 781.90 L295.0 779.00 L296.6 775.60 L299.6 771.44 L301.3 768.51 L307.0 768.43 L310.1 771.39 L312.7 776.10 L314.2 779.53 L315.0 782.72 L316.6 786.95 L316.4 788.73 L317.8 793.08 L318.0 794.67 L319.0 798.30 L319.6 801.28 L321.2 804.71 L322.1 807.89 L322.2 809.63 L323.5 814.08 L323.4 810.22 L324.6 808.23 L324.5 804.99 L324.8 802.26 L325.2 798.87 L325.6 796.32 L325.1 793.87 L325.5 790.31 L325.7 786.75 L326.0 785.34 L326.4 780.97 L327.1 778.96 L327.2 775.58 L329.4 772.35 L331.0 769.57 L339.9 771.04 L341.7 773.03 L343.5 775.97 L344.3 780.10 L345.4 782.45 L347.3 786.13 L348.1 789.34 L349.0 793.93 L350.0 795.85 L351.4 800.38 L353.4 803.17 L354.6 806.83 L355.4 810.48 L357.0 807.58 L357.7 805.28 L358.1 801.57 L359.0 798.43 L361.9 795.09 L364.6 791.81 L367.5 788.01 L370.3 786.36 L376.1 786.97 L378.0 788.44 L379.7 791.08 L381.4 794.52 L384.0 798.79 L386.4 801.52 L389.7 805.50 L392.3 808.89 L393.9 812.53 L395.9 814.63 L397.4 817.82 L400.2 815.41 L402.7 812.62 L405.1 808.57 L406.3 805.25 L408.9 802.26 L414.4 798.45 L419.1 799.38 L419.8 801.15 L421.3 806.06 L422.3 807.86 L423.1 812.69 L423.6 815.63 L423.7 817.71 L424.2 820.60 L424.6 824.71 L425.2 828.01 L430.4 828.12 L432.7 826.21 L435.1 822.14 L436.3 819.14 L437.7 816.88 L439.7 813.21 L446.5 813.39 L452.0 813.68 L456.7 810.63 L462.2 809.94 L470.1 812.20 L471.4 815.47 L472.2 819.10 L473.5 821.52 L474.3 826.09 L474.3 828.26 L474.1 832.30 L474.6 834.43 L474.8 838.03 L477.4 841.51 L482.6 840.54 L488.1 839.56 L496.7 841.71 L502.4 842.81 L507.6 842.00 L510.6 840.54 L513.6 837.45 L520.8 835.34 L526.3 835.77 L532.8 836.17 L537.6 833.45 L542.2 832.09 L549.4 831.88 L554.5 830.32 L556.9 827.10 L559.2 823.57 L561.6 820.51 L569.5 821.01 L576.8 822.03 L583.4 821.05 L591.3 821.23 L598.4 818.54 L605.7 818.98 L608.6 821.04 L610.9 823.91 L615.2 820.57 L620.5 818.02 L620.9 813.68 L622.1 811.08 L624.1 806.16 L625.8 803.54 L628.4 799.81 L631.6 796.54 L634.5 795.16 L641.2 794.56 L649.3 797.25 L658.2 796.90 L660.3 800.96 L663.8 803.07 L670.5 806.46 L673.7 810.01 L676.1 812.58 L680.2 815.00 L680.6 815.74 L687.7 812.43 L691.9 808.39 L696.8 806.03 L702.1 805.33 L706.8 806.74 L710.3 809.96 L713.1 812.23 L713.8 815.58 L714.2 817.11 L715.5 820.10 L716.6 824.23 L720.5 822.85 L724.8 819.50 L727.4 818.14 L729.3 814.16 L731.1 812.65 L734.2 809.08 L738.2 810.07 L742.6 813.42 L747.0 815.88 L749.3 817.13 L752.0 820.42 L759.6 816.32 L765.1 814.40 L768.3 810.19 L772.5 808.12 L781.2 806.82 L783.3 810.16 L785.4 813.00 L786.1 815.70 L788.0 811.88 L790.9 809.33 L791.9 806.68 L794.3 803.72 L797.5 802.15 L799.7 798.41 L800.9 794.06 L803.1 790.65 L808.5 790.89 L813.2 794.47 L821.2 790.83 L827.9 787.93 L830.9 785.19 L834.2 783.65 L840.9 783.47 L846.8 787.91 L847.9 791.66 L849.0 793.61 L850.1 796.84 L852.4 799.29 L855.2 797.15 L859.6 793.92 L860.9 792.19 L864.0 789.17 L865.8 786.26 L872.2 783.57 L876.5 787.71 L885.6 787.85 L893.8 787.49 L899.3 789.07 L901.6 793.16 L904.4 796.67 L909.4 799.39 L916.7 796.80 L924.7 797.12 L933.6 795.77 L935.4 799.28 L938.8 801.89 L940.6 804.87 L941.7 806.97 L944.0 809.63 L949.1 812.19 L951.6 807.52 L954.7 804.91 L960.5 806.73 L962.5 810.91 L965.6 813.96 L971.2 817.81 L976.0 814.35 L983.3 811.15 L987.0 813.24 L989.8 816.66 L992.3 820.95 L994.2 824.44 L1003.3 824.81 L1010.6 822.29 L1018.5 819.17 L1026.6 819.91 L1030.6 822.70 L1034.3 825.64 L1041.7 827.27 L1044.5 831.19 L1046.9 834.55 L1055.8 833.25 L1063.8 833.78 L1071.1 836.55 L1075.5 838.23 L1080.6 842.10 L1079.5 838.59 L1079.4 835.80 L1080.4 832.28 L1079.7 828.84 L1085.1 831.71 L1091.0 832.81 L1094.0 835.48 L1097.8 837.76 L1101.2 841.58 L1108.9 841.92 L1112.9 838.98 L1116.4 836.46 L1120.2 834.91 L1123.6 832.31 L1127.3 829.72 L1130.6 826.76 L1136.3 826.61 L1141.2 825.50 L1148.2 829.09 L1156.5 829.68 L1161.9 831.89 L1164.1 834.64 L1165.9 837.85 L1168.8 841.11 L1176.2 837.55 L1182.7 837.17 L1190.4 840.48 L1198.8 843.16 L1205.3 840.33 L1210.8 837.86 L1216.1 837.77 L1220.7 836.67 L1229.5 838.54 L1236.9 837.76 L1238.6 834.73 L1238.6 831.50 L1240.1 829.63 L1240.7 825.98 L1241.2 823.71 L1242.1 820.43 L1242.4 817.88 L1249.8 818.66 L1257.3 816.88 L1264.7 817.98 L1267.7 815.08 L1269.5 811.44 L1271.3 808.44 L1273.9 805.57 L1278.4 802.80 L1284.3 807.60 L1285.8 810.11 L1288.5 812.95 L1289.9 814.68 L1289.9 818.70 L1290.6 820.51 L1291.4 823.88 L1291.9 827.05 L1293.2 829.07 L1293.2 832.61 L1296.3 836.27 L1298.9 839.71 L1302.9 837.76 L1306.5 835.04 L1309.8 833.32 L1313.6 830.21 L1320.7 826.62 L1325.4 827.62 L1330.0 829.32 L1333.7 832.68 L1340.0 834.94 L1347.5 838.00 L1354.6 837.48 L1362.6 837.64 L1369.0 837.08 L1373.1 842.08 L1373.9 838.62 L1375.0 835.35 L1376.0 833.04 L1377.6 829.25 L1378.6 827.48 L1380.5 823.40 L1382.5 827.57 L1384.2 829.34 L1385.4 832.09 L1391.6 834.77 L1396.2 837.53 L1403.9 841.07 L1407.9 837.78 L1410.6 835.56 L1417.9 832.03 L1425.8 833.50 L1432.5 836.11 L1441.9 835.70 L1444.6 832.60 L1446.5 830.63 L1448.8 828.15 L1453.0 824.69 L1455.5 822.20 L1460.1 820.04 L1464.8 816.44 L1472.6 815.10 L1479.4 815.36 L1479.5 819.58 L1487.4 821.60 L1491.4 818.65 L1494.2 817.10 L1494.8 814.75 L1495.4 810.13 L1496.1 808.61 L1497.0 804.31 L1498.1 801.92 L1499.1 798.75 L1501.1 795.37 L1501.7 791.73 L1504.1 789.14 L1509.1 787.62 L1514.4 788.15 L1516.2 793.05 L1518.1 796.75 L1519.2 800.05 L1519.2 802.53 L1520.6 805.89 L1521.3 809.25 L1529.2 811.02 L1529.6 806.36 L1531.0 803.86 L1532.5 800.52 L1533.9 795.95 L1535.3 792.48 L1536.5 790.08 L1538.6 786.03 L1540.0 782.72 L1544.9 781.44 L1547.9 784.28 L1550.7 787.57 L1551.2 792.46 L1552.9 795.18 L1553.0 798.34 L1554.7 801.52 L1554.9 805.79 L1556.8 809.09 L1557.2 812.50 L1559.5 815.54 L1561.0 818.02 L1561.6 814.48 L1562.7 811.29 L1564.1 808.21 L1564.5 805.21 L1565.8 802.85 L1565.7 799.03 L1566.9 795.94 L1566.8 793.48 L1568.0 791.29 L1568.5 788.27 L1569.6 784.33 L1569.2 781.62 L1570.6 779.11 L1576.3 775.32 L1581.0 774.88 L1588.8 770.40 L1596.2 767.07 L1597.2 770.52 L1599.3 773.84 L1601.7 775.38 L1608.7 777.82 L1613.6 775.16 L1621.3 776.19 L1628.5 775.95 L1629.7 772.46 L1631.6 769.64 L1633.0 766.18 L1634.0 764.19 L1635.9 760.31 L1637.3 757.76 L1638.8 755.25 L1642.8 752.13 L1643.8 756.01 L1645.1 757.88 L1645.6 761.73 L1645.9 764.93 L1647.0 768.92 L1649.0 772.50 L1650.5 775.51 L1651.2 778.98 L1651.9 781.98 L1652.3 785.27 L1653.3 788.70 L1653.7 790.95 L1655.9 793.29 L1658.9 797.41 L1661.3 793.41 L1663.0 789.11 L1664.9 786.02 L1665.6 782.78 L1665.8 779.40 L1667.7 776.29 L1668.1 774.09 L1673.1 772.55 L1679.3 775.14 L1681.3 779.95 L1682.4 782.21 L1684.1 786.50 L1690.3 790.25 L1691.1 787.04 L1693.8 783.25 L1695.2 781.68 L1701.1 777.84 L1702.5 780.97 L1703.2 784.90 L1704.6 788.68 L1706.0 791.27 L1707.5 794.67 L1709.1 797.62 L1709.6 802.32 L1711.5 804.84 L1713.4 801.88 L1714.5 800.04 L1716.6 797.04 L1717.9 792.81 L1719.6 789.60 L1720.8 786.97 L1722.7 783.93 L1727.8 781.81 L1729.5 785.08 L1729.9 788.41 L1731.5 791.89 L1732.4 794.49 L1733.4 797.90 L1735.3 801.43 L1737.2 805.56 L1740.0 808.29 L1748.0 810.31 L1752.9 808.92 L1754.8 814.17 L1757.2 817.56 L1758.4 819.79 L1760.3 823.60 L1761.5 828.33 L1763.5 831.51 L1765.2 835.21 L1767.3 837.79 L1776.1 839.79 L1779.8 835.13 L1783.8 832.78 L1791.5 834.56 L1800.5 836.59 L1806.1 837.47 L1811.0 836.65 L1814.3 839.65 L1819.1 839.05 L1823.7 838.24 L1831.0 839.82 L1837.9 837.93 L1838.9 834.89 L1839.0 832.05 L1840.3 828.66 L1841.4 825.02 L1842.2 822.51 L1841.8 818.71 L1842.9 816.70 L1844.0 812.68 L1844.9 809.99 L1845.7 806.93 L1850.5 803.04 L1856.6 805.23 L1858.5 807.11 L1862.1 809.64 L1866.7 806.34 L1868.0 804.10 L1868.0 800.73 L1868.7 797.50 L1869.9 793.77 L1870.9 790.91 L1872.8 787.61 L1874.5 783.97 L1876.1 780.89 L1880.2 777.34 L1879.7 778.27 L1887.6 780.97 L1894.1 781.61 L1904.0 782.46 L1907.4 784.36 L1910.9 788.43 L1918.1 787.87 L1921.0 786.83 L1924.7 783.25 L1932.5 783.22 L1941.7 781.98 L1943.0 779.67 L1942.9 775.52 L1944.7 773.60 L1945.4 770.53 L1950.8 771.70 L1955.7 775.91 L1957.6 778.65 L1958.3 782.53 L1959.3 785.61 L1961.0 788.55 L1960.9 790.95 L1962.0 793.75 L1963.6 795.77 L1968.8 800.08 L1973.9 796.45 L1979.2 793.35 L1985.3 796.81 L1985.7 798.99 L1987.0 801.67 L1987.1 805.21 L1988.8 808.57 L1991.4 804.70 L1993.8 802.12 L1993.9 799.28 L1995.0 795.59 L1995.3 792.47 L1996.6 789.19 L1996.7 786.80 L1997.9 783.92 L2000.4 780.87 L2003.5 778.66 L2008.7 777.70 L2009.6 779.92 L2011.0 784.14 L2012.4 786.00 L2013.0 789.44 L2013.7 792.53 L2014.8 795.36 L2014.9 799.07 L2015.7 801.12 L2017.0 804.41 L2019.5 808.59 L2020.6 812.61 L2023.3 815.19 L2026.7 817.31 L2029.9 819.58 L2034.1 822.15 L2038.3 824.00 L2042.3 825.18 L2052.1 829.06 L2060.3 828.26 L2067.8 829.45 L2075.0 831.46 L2080.3 834.09 L2082.3 838.24 L2084.9 842.15 L2085.7 837.96 L2087.8 835.04 L2089.4 833.18 L2099.2 830.86 L2107.6 832.75 L2116.8 832.45 L2124.4 833.85 L2129.6 838.07 L2134.7 840.53 L2136.3 838.22 L2138.4 834.80 L2140.8 832.26 L2149.1 832.99 L2158.4 830.97 L2163.3 830.63 L2169.4 830.38 L2174.4 829.33 L2178.9 827.01 L2185.3 824.57 L2191.2 826.81 L2192.7 829.92 L2194.3 832.98 L2196.3 837.06 L2198.8 839.55 L2205.0 836.37 L2212.3 836.61 L2215.6 840.58 L2218.2 843.02"/>
<path class="c r" transform="scale(1,1.75)" d="M292.3 805.54 L293.1 801.45 L294.1 797.27 L295.1 794.95 L296.5 791.64 L297.0 788.01 L298.4 783.80 L300.4 780.80 L305.2 777.94 L308.8 780.45 L310.1 784.84 L310.2 786.92 L311.3 790.06 L311.5 794.01 L312.0 796.64 L312.5 799.58 L313.3 802.56 L314.0 805.83 L314.7 808.74 L315.5 811.01 L315.2 814.07 L316.1 816.34 L317.8 819.67 L320.1 823.46 L321.5 826.56 L322.1 823.20 L322.8 819.79 L323.9 816.80 L324.2 812.76 L324.7 810.73 L325.6 806.32 L325.8 804.17 L325.5 800.52 L326.5 797.51 L327.1 796.05 L327.0 792.14 L327.1 788.89 L328.1 787.42 L328.0 783.41 L329.3 781.28 L334.3 777.83 L340.2 778.09 L341.2 782.42 L343.8 785.41 L344.1 788.59 L345.2 792.56 L345.3 795.98 L345.7 799.20 L347.5 802.04 L347.9 805.43 L348.6 807.85 L349.4 811.33 L350.0 814.73 L350.6 816.65 L351.2 820.22 L352.8 823.72 L353.8 826.26 L361.0 825.81 L363.5 821.45 L365.9 818.31 L369.2 814.50 L371.2 811.81 L373.6 807.99 L379.8 808.45 L385.3 812.32 L386.7 814.86 L388.7 817.15 L390.6 820.03 L393.2 823.74 L396.2 827.13 L397.8 830.68 L399.0 832.65 L401.3 836.79 L402.7 838.55 L405.1 843.07 L407.2 839.64 L409.6 836.76 L411.7 832.41 L412.2 829.56 L412.1 826.97 L412.4 823.95 L413.0 821.12 L412.7 818.04 L413.5 815.99 L413.3 812.00 L413.2 809.51 L413.8 806.33 L417.7 802.48 L420.4 799.53 L423.2 797.21 L428.7 796.07 L430.3 799.13 L431.7 801.97 L433.7 805.95 L434.1 807.89 L435.5 811.69 L437.8 816.47 L439.1 821.12 L446.3 819.64 L454.2 819.72 L460.6 817.71 L470.4 819.43 L477.6 820.79 L478.2 823.74 L479.4 826.55 L480.1 829.74 L480.4 832.66 L483.1 835.76 L485.8 838.56 L488.1 841.80 L495.7 839.65 L502.1 837.66 L510.0 836.13 L511.1 832.43 L513.2 829.54 L515.5 827.12 L520.6 827.51 L527.4 826.05 L533.6 830.24 L534.7 832.24 L537.1 835.63 L538.5 838.05 L540.8 840.04 L546.3 837.98 L550.7 836.29 L557.0 838.49 L565.6 839.65 L573.2 843.16 L579.8 842.98 L587.8 842.26 L595.1 839.47 L598.1 837.94 L602.2 835.86 L607.7 832.58 L609.0 835.54 L609.8 838.21 L610.9 841.05 L612.9 843.36 L617.6 844.84 L623.9 844.83 L626.8 842.22 L629.0 838.46 L632.7 836.61 L642.2 836.88 L645.1 835.10 L648.8 832.43 L652.7 829.09 L656.0 826.83 L658.5 830.39 L661.6 832.14 L666.4 836.37 L673.7 835.13 L679.8 833.31 L680.0 834.75 L683.5 837.94 L687.1 840.93 L693.1 835.15 L695.2 832.60 L698.6 829.33 L703.5 832.90 L707.2 836.41 L710.9 838.46 L718.2 837.43 L721.0 835.65 L725.1 832.68 L728.9 834.49 L732.5 838.65 L735.7 836.13 L740.0 832.88 L742.7 835.98 L747.2 837.77 L750.3 840.09 L754.6 842.21 L761.1 839.52 L764.1 836.67 L766.6 834.33 L770.0 833.28 L774.5 831.36 L781.8 830.09 L786.6 831.94 L793.4 834.35 L801.4 831.10 L807.9 829.14 L814.0 825.07 L815.6 821.06 L817.2 818.62 L822.6 814.86 L825.2 811.88 L828.5 808.20 L830.7 810.69 L833.1 813.57 L839.5 814.87 L841.0 819.68 L842.4 822.99 L849.9 823.20 L855.0 824.97 L860.7 827.87 L862.1 830.04 L864.0 833.54 L866.2 828.84 L867.6 825.42 L869.4 822.11 L874.9 822.72 L880.5 824.12 L885.7 827.24 L888.4 824.00 L891.4 820.58 L899.3 818.08 L903.8 823.39 L909.1 826.38 L914.7 821.00 L919.5 818.44 L924.4 816.91 L927.4 820.37 L929.4 822.19 L936.7 824.59 L944.5 823.75 L949.3 822.29 L957.0 823.73 L959.6 827.37 L961.6 831.42 L964.5 834.77 L967.5 837.34 L972.6 841.82 L980.2 838.59 L981.8 834.69 L983.9 832.78 L985.2 829.37 L991.2 828.73 L992.7 831.69 L995.2 835.14 L996.2 837.20 L998.2 840.20 L1004.9 838.50 L1013.1 834.74 L1020.5 834.20 L1026.6 835.36 L1030.3 831.30 L1032.2 827.29 L1034.8 825.29 L1038.0 822.52 L1039.9 818.95 L1045.7 816.35 L1046.7 819.68 L1048.5 822.10 L1050.5 825.07 L1053.8 827.34 L1056.7 830.77 L1061.6 832.21 L1068.8 830.62 L1071.4 827.07 L1073.3 824.27 L1076.2 822.60 L1080.1 816.68 L1080.1 817.06 L1085.4 813.04 L1087.9 816.03 L1090.6 818.51 L1092.7 821.73 L1094.0 825.15 L1096.8 827.90 L1097.7 829.63 L1100.2 833.62 L1101.4 835.54 L1104.4 832.22 L1107.1 829.40 L1116.3 828.10 L1123.3 826.31 L1125.6 823.15 L1126.9 820.63 L1128.5 817.54 L1131.0 815.36 L1133.0 812.06 L1133.8 810.17 L1136.5 807.57 L1140.1 806.17 L1141.4 808.94 L1142.8 810.96 L1145.2 813.60 L1147.1 815.46 L1150.7 819.63 L1153.7 822.37 L1157.0 819.70 L1159.1 818.47 L1161.9 814.85 L1166.8 813.73 L1172.4 815.92 L1179.1 815.83 L1186.8 815.04 L1192.3 820.14 L1194.8 823.05 L1197.1 826.79 L1199.7 829.39 L1203.1 832.20 L1204.8 834.66 L1206.7 837.92 L1207.8 835.02 L1210.1 833.22 L1212.9 831.00 L1214.6 827.21 L1217.9 825.34 L1224.9 823.09 L1234.0 825.64 L1237.4 829.24 L1240.9 832.77 L1246.6 833.58 L1248.8 830.55 L1251.3 827.62 L1256.0 825.65 L1258.6 822.73 L1266.4 822.58 L1268.6 824.61 L1271.0 827.58 L1273.6 831.51 L1278.7 828.81 L1285.9 828.93 L1295.0 831.37 L1296.3 827.58 L1297.0 824.67 L1297.5 822.80 L1304.6 825.52 L1309.2 826.17 L1311.4 829.40 L1313.8 833.47 L1314.8 835.97 L1322.7 832.98 L1327.7 833.14 L1332.9 832.67 L1335.4 835.96 L1337.8 838.03 L1340.0 840.86 L1345.7 835.09 L1348.2 833.67 L1349.7 830.92 L1351.2 828.19 L1359.1 824.16 L1364.5 822.82 L1365.3 819.51 L1367.4 815.32 L1369.4 812.73 L1375.4 810.76 L1377.9 813.19 L1380.3 816.46 L1382.5 819.98 L1384.1 823.82 L1385.3 826.98 L1387.1 830.70 L1389.6 833.84 L1390.6 835.74 L1396.5 836.50 L1397.9 832.99 L1398.7 829.05 L1400.1 827.36 L1400.6 823.67 L1401.7 820.00 L1402.3 816.94 L1403.3 814.14 L1409.4 812.27 L1414.0 815.76 L1416.6 819.80 L1419.6 821.83 L1422.0 825.73 L1429.3 827.11 L1431.4 830.50 L1434.4 831.94 L1437.3 835.16 L1440.3 837.65 L1442.3 840.68 L1445.6 841.97 L1446.6 839.95 L1447.9 836.72 L1448.1 833.90 L1449.3 830.21 L1450.7 828.09 L1455.7 825.11 L1457.8 821.61 L1458.9 819.84 L1459.9 815.00 L1466.8 815.06 L1469.3 818.48 L1472.2 819.61 L1473.1 823.47 L1474.1 825.90 L1474.6 829.64 L1474.7 832.32 L1474.9 834.57 L1475.7 837.66 L1480.4 838.01 L1479.6 837.74 L1487.2 839.66 L1494.8 838.39 L1496.4 833.62 L1499.2 830.69 L1501.5 828.04 L1506.9 825.78 L1510.7 830.92 L1513.3 828.21 L1515.7 825.67 L1520.2 829.71 L1523.4 832.70 L1525.4 834.68 L1528.8 837.03 L1531.0 839.69 L1533.0 835.63 L1536.2 832.35 L1537.3 829.06 L1539.3 825.88 L1540.1 822.47 L1541.7 818.96 L1546.6 820.41 L1551.7 823.02 L1555.5 826.09 L1557.2 829.89 L1564.5 829.20 L1571.9 830.48 L1579.1 830.04 L1582.4 826.22 L1584.4 824.39 L1592.0 823.34 L1597.9 823.85 L1602.7 826.53 L1608.2 825.00 L1613.8 824.01 L1621.5 822.99 L1628.0 822.93 L1636.1 824.60 L1637.8 827.93 L1641.1 831.07 L1642.9 828.01 L1643.8 824.62 L1644.9 820.33 L1646.7 816.46 L1649.4 811.84 L1657.8 811.81 L1663.1 815.69 L1664.1 818.04 L1664.9 821.33 L1667.0 824.99 L1668.3 828.32 L1670.8 829.75 L1674.1 833.46 L1677.0 835.99 L1678.9 833.48 L1681.3 829.68 L1682.0 828.26 L1687.4 827.79 L1695.8 826.23 L1698.1 830.26 L1700.5 834.39 L1709.6 832.51 L1712.2 829.78 L1715.3 825.59 L1716.8 823.04 L1717.3 818.84 L1719.6 816.05 L1720.1 812.49 L1729.4 809.98 L1735.4 814.32 L1741.9 817.38 L1747.6 820.32 L1753.3 818.59 L1759.0 820.49 L1763.9 824.99 L1769.4 822.93 L1772.2 819.57 L1774.4 816.99 L1775.5 813.46 L1777.4 811.55 L1778.3 808.03 L1782.6 812.53 L1788.0 814.41 L1791.4 816.97 L1796.7 817.97 L1803.3 817.74 L1806.8 813.54 L1814.5 814.09 L1823.1 814.67 L1826.6 813.85 L1830.3 810.17 L1837.6 808.89 L1845.7 809.42 L1850.6 812.89 L1855.6 811.62 L1858.2 807.96 L1859.4 804.69 L1861.5 801.78 L1865.6 798.95 L1868.5 797.93 L1872.3 800.01 L1876.6 801.54 L1876.9 804.72 L1878.5 807.73 L1880.2 809.81 L1879.4 807.21 L1887.4 805.09 L1889.6 802.02 L1892.9 798.58 L1899.6 795.92 L1905.5 795.75 L1906.5 799.38 L1909.0 803.64 L1911.1 806.16 L1912.0 811.27 L1914.6 815.87 L1916.8 818.49 L1919.2 822.46 L1925.7 818.49 L1930.5 818.48 L1932.7 822.93 L1936.1 825.53 L1941.8 825.95 L1947.0 823.62 L1953.8 823.23 L1956.4 826.61 L1957.2 828.68 L1959.4 831.60 L1962.3 835.50 L1965.1 837.18 L1971.9 840.10 L1979.3 841.09 L1981.2 838.57 L1983.3 835.98 L1985.0 832.95 L1987.1 829.67 L1988.3 827.71 L1994.1 832.39 L1996.2 834.47 L1999.2 836.82 L2002.3 834.05 L2004.6 829.26 L2009.7 825.98 L2013.4 822.35 L2015.1 818.97 L2023.3 818.92 L2024.4 821.17 L2025.8 824.92 L2026.2 826.84 L2027.7 831.31 L2028.4 834.24 L2030.6 838.01 L2036.2 839.71 L2042.5 843.16 L2046.8 840.02 L2050.5 837.03 L2051.5 834.42 L2053.8 831.48 L2055.2 826.86 L2057.1 825.09 L2059.3 822.67 L2060.5 819.53 L2063.1 816.83 L2066.5 813.17 L2072.0 815.59 L2073.5 818.29 L2074.8 822.59 L2076.6 824.81 L2082.3 826.62 L2088.2 823.93 L2090.6 820.70 L2093.9 819.06 L2098.5 815.50 L2101.2 812.44 L2104.1 809.35 L2109.8 809.68 L2115.2 804.29 L2120.2 803.55 L2123.8 807.56 L2128.2 809.85 L2132.7 813.13 L2137.0 809.16 L2139.8 807.14 L2145.6 805.80 L2153.0 806.68 L2157.0 809.15 L2160.6 811.83 L2163.9 813.65 L2167.8 814.40 L2170.2 818.02 L2172.9 819.54 L2178.7 824.24 L2180.4 827.69 L2182.4 829.98 L2183.8 833.05 L2184.7 835.40 L2186.5 838.35 L2187.9 841.99 L2191.0 839.31 L2194.1 838.15 L2195.0 835.32 L2196.5 832.09 L2196.6 828.17 L2197.7 824.68 L2198.6 822.98 L2199.0 819.19 L2199.5 817.01 L2200.9 813.46 L2201.9 810.65 L2201.7 807.12 L2203.2 804.68 L2203.4 801.21 L2207.0 799.10 L2210.4 797.30 L2216.5 802.45 L2217.1 804.64 L2218.7 808.49 L2219.1 812.02"/>
<path class="c b" transform="scale(1,1.75)" d="M291.2 826.54 L292.0 830.28 L292.9 834.26 L293.1 836.49 L294.1 840.49 L296.1 838.54 L297.2 834.86 L299.1 837.28 L300.2 841.30 L302.0 837.78 L303.5 835.33 L305.6 837.11 L307.2 840.24 L308.7 838.56 L310.6 835.85 L311.5 837.11 L313.4 840.85 L315.4 837.01 L316.5 835.40 L317.8 837.89 L319.4 840.66 L321.4 837.75 L321.7 833.88 L323.5 831.39 L323.9 833.79 L324.7 837.65 L326.5 839.83 L327.1 837.68 L327.3 834.45 L328.6 831.24 L329.0 828.20 L330.2 830.53 L331.2 834.71 L331.6 838.22 L332.4 840.38 L336.0 835.89 L338.5 841.20 L342.5 835.67 L345.3 841.00 L348.4 834.52 L352.1 840.74 L352.4 837.07 L352.9 834.32 L354.0 832.34 L355.6 828.41 L357.5 828.01 L360.0 824.15 L361.3 819.37 L367.3 816.75 L372.0 817.13 L374.2 820.75 L376.2 824.13 L381.7 827.85 L383.2 830.70 L384.8 834.50 L388.0 829.99 L390.3 827.23 L391.1 830.26 L392.2 833.83 L393.7 835.84 L394.4 839.29 L395.7 841.63 L396.5 839.23 L396.9 836.66 L397.4 832.71 L399.1 830.57 L399.9 827.93 L406.2 824.86 L413.7 822.72 L421.4 818.77 L427.0 821.64 L433.8 821.82 L435.0 825.50 L435.9 828.46 L437.5 830.51 L444.0 830.00 L450.6 832.01 L451.3 835.71 L453.4 840.28 L454.2 837.64 L454.3 834.81 L455.0 830.84 L456.6 828.85 L456.3 825.13 L456.8 821.62 L465.0 822.83 L471.3 823.08 L472.7 824.56 L473.0 828.60 L473.5 831.82 L473.9 833.24 L481.3 830.74 L487.8 827.00 L495.5 826.88 L498.3 830.95 L501.0 834.17 L501.9 830.51 L503.7 826.67 L506.3 823.26 L513.9 827.92 L516.5 830.60 L520.3 832.14 L521.3 835.52 L523.2 839.35 L524.2 841.85 L531.4 843.55 L534.2 840.80 L536.5 838.69 L537.6 833.70 L539.2 831.14 L540.5 828.26 L542.6 825.12 L543.7 821.07 L545.7 818.51 L552.5 817.28 L559.1 822.92 L561.6 825.33 L565.9 826.69 L571.7 830.45 L572.3 833.47 L572.4 835.68 L574.0 839.85 L574.6 843.00 L577.4 838.46 L580.3 834.87 L587.0 834.67 L589.1 831.46 L590.9 828.82 L592.3 824.87 L599.6 824.43 L601.4 822.02 L602.2 818.44 L602.8 816.20 L604.3 812.34 L606.8 811.34 L615.1 813.51 L616.5 816.68 L618.7 818.96 L620.2 822.31 L620.2 825.70 L620.6 828.90 L620.8 831.24 L621.5 833.33 L622.1 836.03 L622.1 838.95 L623.1 843.03 L623.9 840.13 L624.3 836.11 L625.5 833.93 L626.8 831.21 L626.8 827.42 L628.9 825.08 L630.1 821.36 L631.3 818.51 L632.5 814.77 L634.4 812.70 L635.8 809.62 L636.5 805.81 L637.4 803.35 L642.9 802.99 L650.2 805.09 L652.9 808.10 L656.1 812.03 L657.8 815.42 L660.3 818.04 L661.4 821.05 L664.8 824.47 L667.5 820.74 L668.4 818.11 L670.4 814.96 L672.6 813.08 L674.4 810.42 L675.6 807.70 L679.6 807.42 L680.0 806.80 L681.5 810.86 L682.8 813.79 L684.5 817.58 L685.4 819.97 L690.3 820.37 L692.4 817.34 L695.1 815.56 L696.1 811.38 L701.2 810.92 L704.3 813.81 L707.7 817.45 L709.5 821.02 L712.5 823.20 L718.2 824.42 L719.7 821.71 L720.5 817.77 L722.1 815.55 L723.6 812.68 L729.4 807.34 L733.9 806.91 L736.6 809.18 L737.6 811.87 L740.1 814.88 L742.5 818.06 L745.6 820.62 L751.0 820.12 L751.4 816.13 L752.0 814.15 L753.2 810.28 L753.7 806.69 L760.1 804.92 L765.5 805.61 L770.5 809.37 L777.1 807.60 L779.5 802.94 L781.4 801.14 L786.8 798.86 L789.7 797.13 L792.3 793.65 L793.9 790.87 L795.5 788.03 L797.1 783.62 L801.4 781.49 L804.9 777.60 L810.5 776.33 L815.6 773.47 L816.9 770.53 L818.9 767.85 L821.2 765.13 L822.7 761.82 L824.7 759.82 L828.8 754.81 L835.8 754.03 L841.0 757.50 L844.7 762.26 L849.5 763.87 L851.4 767.09 L852.0 770.69 L852.8 773.81 L853.7 775.39 L856.1 772.75 L859.1 768.46 L864.6 767.75 L866.3 764.69 L867.7 761.86 L869.7 757.27 L871.3 754.00 L872.7 757.65 L873.5 761.01 L875.9 763.77 L877.6 766.45 L878.4 770.60 L882.1 773.32 L884.1 776.50 L888.1 779.45 L888.3 775.65 L889.4 772.78 L889.5 771.18 L890.7 766.55 L891.0 765.16 L892.0 760.65 L895.7 759.01 L897.9 761.09 L900.6 764.06 L901.3 767.51 L902.8 770.80 L903.5 772.16 L904.1 775.16 L905.2 779.17 L906.6 782.10 L907.4 785.34 L909.1 789.34 L910.2 792.19 L911.5 789.12 L912.5 786.74 L913.7 784.62 L913.6 780.14 L914.5 777.39 L917.7 774.67 L920.4 770.77 L925.4 768.49 L927.4 771.86 L930.1 775.84 L932.1 779.76 L935.5 783.11 L940.7 787.38 L946.1 788.72 L951.0 785.34 L958.7 787.31 L959.8 791.53 L962.2 795.21 L965.3 797.46 L967.2 799.17 L973.1 802.51 L975.6 800.44 L978.1 796.06 L984.2 795.70 L986.6 800.23 L989.0 804.46 L991.5 806.61 L993.4 808.80 L994.2 812.75 L996.9 814.42 L998.3 818.20 L1000.5 819.45 L1005.2 820.12 L1010.6 814.41 L1016.2 812.86 L1022.3 813.27 L1026.6 816.93 L1029.3 819.46 L1030.6 822.82 L1032.4 826.42 L1034.5 829.86 L1035.8 832.86 L1037.7 835.93 L1043.2 840.49 L1050.9 840.91 L1058.4 838.77 L1064.8 839.81 L1069.1 837.27 L1072.8 832.95 L1079.9 832.55 L1079.8 833.48 L1085.8 828.78 L1086.9 831.90 L1087.9 836.31 L1089.6 839.21 L1091.4 842.77 L1091.8 838.68 L1093.5 835.71 L1093.9 834.08 L1095.2 830.97 L1096.7 827.77 L1099.0 823.57 L1101.2 820.08 L1108.9 819.68 L1116.1 818.96 L1123.6 819.96 L1126.2 822.34 L1129.0 825.76 L1130.3 827.38 L1132.1 831.31 L1133.8 827.10 L1134.2 823.24 L1135.0 821.01 L1136.0 817.48 L1137.5 814.93 L1139.3 812.46 L1141.3 809.06 L1146.8 806.10 L1154.2 806.59 L1156.4 810.20 L1159.5 812.34 L1166.9 816.21 L1172.6 820.74 L1175.8 821.87 L1179.1 824.35 L1187.2 826.88 L1189.1 829.91 L1191.9 833.39 L1194.5 834.99 L1197.2 838.99 L1199.2 834.26 L1201.2 829.77 L1207.0 830.64 L1212.2 833.52 L1213.7 837.00 L1215.5 841.04 L1217.2 837.43 L1219.2 835.05 L1220.9 832.53 L1223.2 829.96 L1230.1 829.87 L1235.0 832.73 L1238.3 829.68 L1240.5 827.35 L1242.5 825.79 L1244.9 822.68 L1248.3 818.60 L1253.9 819.75 L1257.8 821.41 L1260.7 825.17 L1261.3 828.63 L1261.8 831.93 L1263.3 833.81 L1263.8 838.37 L1264.7 840.65 L1265.2 837.78 L1265.8 834.86 L1267.4 833.02 L1267.5 829.92 L1268.5 826.64 L1270.4 825.28 L1272.6 821.14 L1274.9 819.26 L1279.3 816.82 L1282.0 819.54 L1284.4 822.60 L1289.5 826.27 L1294.8 825.80 L1297.2 823.21 L1298.9 819.58 L1301.0 817.60 L1305.6 813.79 L1314.5 815.00 L1322.2 813.22 L1329.8 816.44 L1331.9 819.49 L1332.8 821.89 L1335.4 824.79 L1340.5 829.71 L1346.3 828.35 L1349.0 824.09 L1351.4 819.67 L1355.1 817.55 L1358.7 814.42 L1360.4 811.06 L1361.7 808.29 L1364.1 803.98 L1369.6 802.34 L1376.2 798.50 L1379.7 801.48 L1383.3 804.55 L1385.5 806.11 L1387.7 809.32 L1389.1 811.26 L1391.7 815.87 L1394.8 819.41 L1395.4 821.90 L1396.4 826.70 L1396.8 829.84 L1398.6 833.42 L1399.8 828.82 L1401.4 825.76 L1404.1 822.33 L1409.4 818.39 L1416.5 817.60 L1421.6 816.53 L1429.2 817.36 L1431.8 819.93 L1434.8 822.88 L1435.3 826.02 L1436.3 828.83 L1437.5 832.49 L1438.0 834.25 L1438.9 838.61 L1439.9 840.88 L1439.9 837.65 L1440.6 834.88 L1441.6 831.74 L1442.0 828.97 L1442.4 825.95 L1442.9 822.59 L1442.9 819.56 L1447.3 817.61 L1450.6 815.65 L1456.4 815.37 L1458.0 819.48 L1459.4 822.32 L1460.3 825.40 L1461.3 828.14 L1463.9 829.56 L1466.8 833.75 L1470.7 830.99 L1474.0 827.40 L1476.9 824.76 L1479.8 822.32 L1479.7 822.21 L1483.8 825.25 L1487.6 827.60 L1488.5 830.09 L1490.8 833.98 L1492.8 835.78 L1493.9 832.36 L1494.9 828.57 L1496.8 826.05 L1498.2 823.13 L1499.9 819.51 L1500.4 816.32 L1502.3 811.65 L1503.2 808.16 L1507.7 807.10 L1510.9 803.61 L1514.6 806.36 L1517.7 810.64 L1522.1 811.86 L1525.0 815.25 L1528.8 811.80 L1532.3 808.84 L1540.0 808.58 L1543.8 808.48 L1545.5 811.23 L1548.5 815.00 L1556.5 813.34 L1556.8 812.01 L1557.2 808.10 L1558.0 806.06 L1558.6 802.66 L1559.0 799.09 L1559.9 796.92 L1560.4 793.66 L1560.9 790.79 L1561.9 787.77 L1563.5 784.93 L1569.2 783.31 L1574.2 786.56 L1574.4 789.54 L1575.5 792.04 L1576.7 796.33 L1577.3 798.52 L1582.9 798.49 L1583.0 795.90 L1584.1 793.86 L1584.9 790.29 L1584.7 787.93 L1584.9 784.84 L1585.9 781.68 L1586.5 778.78 L1586.4 775.99 L1587.3 773.75 L1587.5 770.15 L1588.5 767.49 L1588.5 763.43 L1589.9 761.12 L1589.7 757.83 L1590.7 755.63 L1592.0 751.29 L1592.8 749.01 L1594.1 745.06 L1597.8 743.21 L1600.1 747.30 L1602.6 750.07 L1603.9 752.46 L1604.2 756.77 L1605.0 760.21 L1605.8 763.49 L1606.6 766.48 L1612.0 763.54 L1615.6 764.83 L1620.7 766.94 L1622.6 771.36 L1625.1 775.20 L1629.3 780.31 L1630.4 776.57 L1631.9 773.72 L1633.0 769.99 L1633.2 767.05 L1634.0 765.02 L1634.3 760.63 L1634.5 757.11 L1634.2 754.49 L1634.8 750.78 L1635.2 748.18 L1635.6 745.56 L1638.7 742.06 L1641.0 738.69 L1646.9 736.93 L1648.2 739.85 L1649.7 742.86 L1651.5 746.78 L1653.2 751.21 L1654.3 753.03 L1655.7 757.68 L1661.1 760.11 L1666.8 762.13 L1670.1 761.57 L1674.8 762.70 L1681.1 763.87 L1683.3 768.48 L1686.0 771.49 L1691.9 772.12 L1697.4 769.52 L1704.7 769.62 L1707.2 772.49 L1710.1 775.73 L1711.1 777.93 L1711.8 781.53 L1712.7 784.11 L1713.5 787.65 L1713.6 790.32 L1715.2 792.24 L1715.8 789.14 L1716.1 786.81 L1716.4 782.54 L1715.6 780.51 L1716.3 776.19 L1716.1 773.26 L1717.0 771.04 L1717.6 768.18 L1718.7 763.65 L1719.7 759.86 L1720.1 757.06 L1722.6 753.83 L1723.6 751.05 L1725.6 748.64 L1731.6 749.58 L1732.6 751.32 L1733.1 755.01 L1733.2 757.66 L1734.1 760.82 L1734.9 762.91 L1736.0 766.13 L1736.0 768.56 L1737.0 772.84 L1737.1 774.32 L1737.9 777.41 L1738.1 781.71 L1741.8 782.92 L1743.5 787.03 L1749.3 785.87 L1753.2 783.91 L1755.3 787.81 L1759.0 790.85 L1760.7 795.66 L1763.6 799.19 L1766.8 801.83 L1769.7 805.37 L1772.3 801.71 L1775.0 799.31 L1779.9 797.48 L1783.3 801.04 L1786.2 803.88 L1787.5 805.80 L1788.8 809.77 L1789.3 813.11 L1790.8 815.37 L1793.0 818.23 L1794.9 821.75 L1796.0 825.84 L1797.7 822.94 L1798.2 819.71 L1799.6 816.19 L1800.1 812.25 L1803.0 808.13 L1805.6 804.63 L1813.3 807.10 L1814.8 809.63 L1816.3 814.33 L1817.9 816.86 L1819.6 820.70 L1820.3 822.33 L1822.0 826.34 L1823.4 823.03 L1825.4 820.04 L1826.8 817.92 L1832.4 815.09 L1840.0 817.18 L1843.9 820.40 L1849.2 822.91 L1855.9 823.93 L1857.4 827.17 L1859.4 829.56 L1862.1 832.29 L1868.5 832.26 L1871.0 829.76 L1872.8 826.60 L1874.7 824.47 L1879.9 824.00 L1879.9 819.41 L1879.6 816.57 L1885.8 817.15 L1887.8 820.02 L1890.3 822.15 L1896.5 824.60 L1898.4 827.73 L1900.1 831.18 L1901.5 827.32 L1902.0 824.03 L1903.8 821.11 L1907.0 819.30 L1910.5 817.54 L1917.4 814.76 L1921.8 811.91 L1924.8 809.80 L1932.5 806.92 L1935.2 803.27 L1937.8 801.36 L1942.7 796.81 L1945.1 792.72 L1947.2 789.68 L1948.7 787.51 L1954.2 786.94 L1960.1 786.29 L1964.5 790.22 L1970.5 789.18 L1973.6 788.09 L1979.9 788.96 L1981.4 791.70 L1982.9 796.28 L1984.8 798.50 L1986.1 801.95 L1989.1 804.03 L1993.8 804.06 L1996.2 801.15 L1997.7 796.25 L2000.9 793.05 L2006.3 792.75 L2013.3 795.37 L2020.9 791.73 L2026.2 791.87 L2028.8 796.46 L2030.1 798.83 L2031.4 802.82 L2031.9 805.69 L2033.3 809.64 L2034.0 811.81 L2033.7 814.94 L2034.5 818.34 L2033.5 820.93 L2033.8 823.31 L2033.7 827.33 L2034.5 831.01 L2034.8 833.84 L2034.9 836.22 L2034.4 839.72 L2034.9 842.57 L2034.7 839.53 L2035.3 836.73 L2036.0 833.98 L2035.3 830.25 L2036.3 827.78 L2035.7 823.92 L2036.4 821.52 L2037.1 818.42 L2037.4 815.08 L2037.4 811.11 L2042.9 811.42 L2051.4 810.02 L2057.7 806.61 L2058.6 804.12 L2061.1 800.07 L2067.6 800.34 L2075.2 802.29 L2077.9 807.03 L2080.5 810.53 L2084.5 812.05 L2086.6 807.72 L2088.0 804.87 L2097.0 804.62 L2099.1 806.87 L2102.6 809.46 L2104.5 813.33 L2105.7 816.27 L2108.2 818.57 L2109.3 823.53 L2111.0 827.55 L2111.4 830.52 L2112.6 832.82 L2112.6 836.63 L2113.4 839.26 L2113.6 842.48 L2113.2 838.43 L2114.3 836.37 L2114.9 832.75 L2114.6 830.56 L2115.7 826.30 L2116.0 824.10 L2116.5 820.99 L2116.5 818.05 L2118.1 812.78 L2120.2 809.04 L2127.2 805.25 L2132.9 800.81 L2135.7 804.30 L2138.4 808.23 L2146.2 809.62 L2151.5 813.78 L2154.3 817.07 L2158.3 818.85 L2160.1 821.48 L2162.6 825.42 L2163.4 827.04 L2166.1 830.73 L2167.3 833.26 L2168.9 835.20 L2174.3 837.88 L2182.0 838.63 L2187.7 834.33 L2188.8 837.77 L2191.1 840.22 L2191.5 836.87 L2192.2 834.43 L2192.6 831.94 L2192.3 827.90 L2193.3 825.49 L2193.9 822.86 L2193.5 820.27 L2194.4 817.05 L2194.1 814.46 L2197.6 811.24 L2199.9 807.66 L2203.4 803.85 L2206.6 807.08 L2209.0 810.66 L2211.9 813.86 L2215.0 816.91 L2215.3 818.19 L2216.9 821.10 L2217.3 824.91 L2219.1 827.52"/>
<text class="t" text-anchor="middle" transform="translate(289.0,1575.0) scale(1.000,1.020)" style="font-size:86px">0</text>
<text class="t" text-anchor="middle" transform="translate(610.6,1575.0) scale(1.000,1.020)" style="font-size:86px">600</text>
<text class="t" text-anchor="middle" transform="translate(932.2,1575.0) scale(1.000,1.020)" style="font-size:86px">1200</text>
<text class="t" text-anchor="middle" transform="translate(1253.8,1575.0) scale(1.000,1.020)" style="font-size:86px">1800</text>
<text class="t" text-anchor="middle" transform="translate(1575.3,1575.0) scale(1.000,1.020)" style="font-size:86px">2400</text>
<text class="t" text-anchor="middle" transform="translate(1896.9,1575.0) scale(1.000,1.020)" style="font-size:86px">3000</text>
<text class="t" text-anchor="middle" transform="translate(2218.5,1575.0) scale(1.000,1.020)" style="font-size:86px">3600</text>
<text class="t" text-anchor="middle" transform="translate(1277.5,1706.0) scale(1.000,1.020)" style="font-size:86px;letter-spacing:0.6px">Epoch [s]</text>
<g transform="translate(102,1127.5) rotate(-90)"><text class="yl" transform="scale(1.0,1.04)" style="font-size:87.5px">IPSD [<tspan dx="-2">mm</tspan><tspan dx="-2">/</tspan><tspan dx="35.4" dy="4.3">s</tspan><tspan dx="-6.5" dy="-4.3"> ]</tspan></text><text transform="translate(432.5,15) scale(0.7,1)" style="font-size:100px;stroke:#fff;stroke-width:2.5px">√</text><line x1="469.5" y1="-62" x2="507.5" y2="-62" stroke="#000" stroke-width="4"/></g>
</svg></div></body></html>
